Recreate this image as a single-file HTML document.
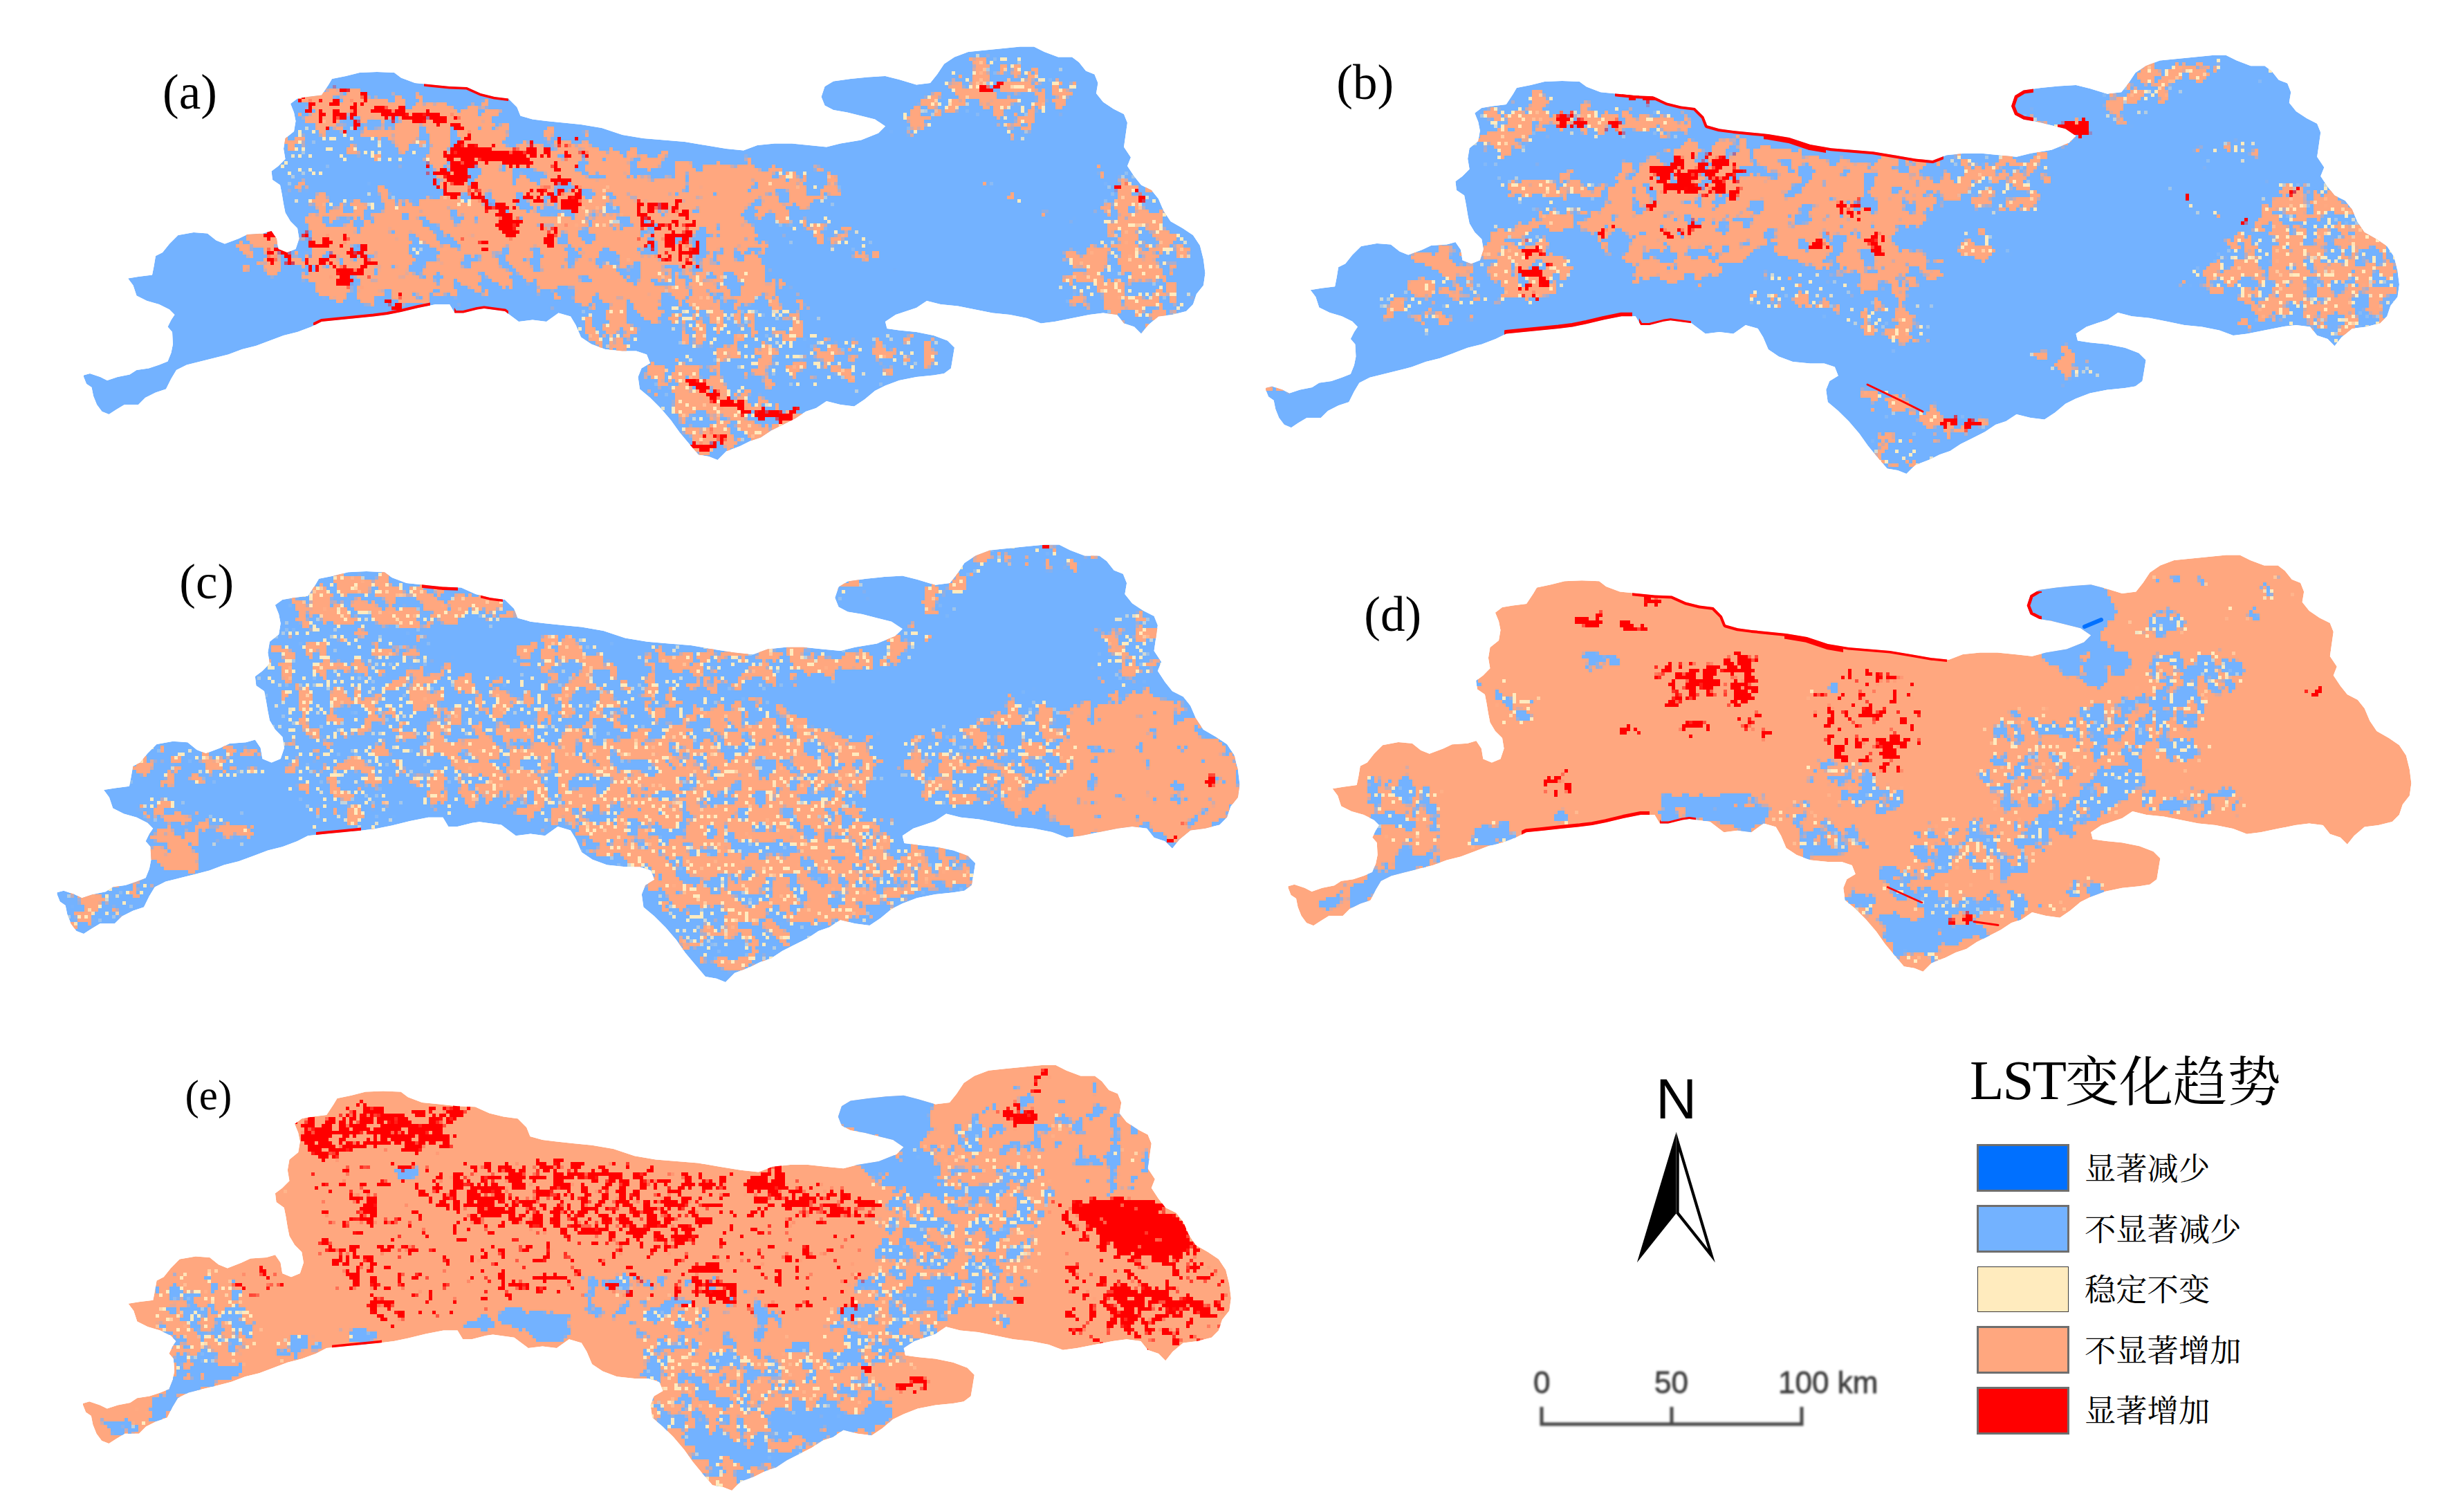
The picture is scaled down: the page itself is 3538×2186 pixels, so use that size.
<!DOCTYPE html>
<html><head><meta charset="utf-8"><title>LST</title>
<style>
html,body{margin:0;padding:0;background:#fff;}
body{width:3538px;height:2186px;overflow:hidden;position:relative;font-family:"Liberation Serif","Noto Serif CJK SC",serif;color:#000;}
svg{position:absolute;left:0;top:0;}
.lab{position:absolute;font-size:71px;line-height:1;white-space:nowrap;}
.ttl{position:absolute;font-size:81px;line-height:1;white-space:nowrap;letter-spacing:-2px;}
.ttl span{font-size:78px;letter-spacing:0;position:relative;top:3px;}
.lg{position:absolute;font-size:45.3px;line-height:1;white-space:nowrap;}
.sw{position:absolute;box-sizing:border-box;border:3px solid #6e6e6e;width:134px;height:69px;left:2858px;}
.sb{position:absolute;font-family:"Liberation Sans",sans-serif;font-size:44px;line-height:1;color:#3c3c3c;-webkit-text-stroke:0.8px #3c3c3c;filter:blur(1.5px);white-space:nowrap;}
.n{position:absolute;font-family:"Liberation Sans",sans-serif;font-size:82px;line-height:1;}
</style></head><body>
<svg width="3538" height="2186" viewBox="0 0 3538 2186">

<defs><path id="oa" d="M121.0,542.5 L130.0,540.0 L145.0,545.0 L155.0,550.0 L170.0,545.0 L187.5,541.5 L197.5,535.0 L215.0,532.5 L230.0,527.5 L242.5,522.5 L247.5,510.0 L250.0,497.5 L249.0,480.0 L242.5,472.5 L247.5,462.5 L252.5,455.0 L245.0,447.5 L230.0,440.0 L212.5,435.0 L197.5,427.5 L192.5,412.5 L185.0,402.5 L200.0,400.0 L220.0,397.5 L222.5,385.0 L225.0,370.0 L235.0,365.0 L245.0,352.5 L257.5,340.0 L280.0,336.0 L300.0,337.5 L312.5,347.5 L325.0,352.5 L345.0,345.0 L357.5,339.0 L380.0,337.5 L392.5,334.0 L400.0,345.0 L402.5,360.0 L415.0,365.0 L427.5,360.0 L432.5,345.0 L430.0,330.0 L420.0,320.0 L412.5,307.5 L410.0,295.0 L407.5,280.0 L405.0,267.5 L394.0,260.0 L392.5,247.5 L402.5,240.0 L412.5,230.0 L410.0,215.0 L412.5,200.0 L425.0,190.0 L427.5,175.0 L425.0,162.5 L420.0,150.0 L430.0,142.5 L445.0,140.0 L465.0,137.5 L475.0,122.5 L480.0,114.0 L500.0,110.0 L520.0,105.0 L545.0,104.0 L570.0,105.0 L580.0,112.5 L600.0,120.0 L625.0,122.5 L650.0,125.0 L675.0,126.0 L695.0,135.0 L715.0,140.0 L735.0,142.5 L747.5,155.0 L752.5,167.5 L770.0,172.5 L790.0,175.0 L815.0,177.5 L840.0,180.0 L870.0,185.0 L900.0,195.0 L930.0,200.0 L960.0,202.5 L990.0,205.0 L1020.0,210.0 L1050.0,215.0 L1075.0,217.5 L1095.0,210.0 L1120.0,207.5 L1145.0,207.5 L1170.0,210.0 L1195.0,212.5 L1215.0,207.5 L1245.0,202.5 L1270.0,192.5 L1280.0,182.5 L1265.0,172.5 L1245.0,167.5 L1225.0,162.5 L1205.0,159.0 L1192.5,152.5 L1187.5,140.0 L1192.5,125.0 L1205.0,117.5 L1230.0,114.0 L1255.0,111.5 L1280.0,110.0 L1300.0,115.0 L1325.0,122.5 L1345.0,120.0 L1355.0,107.5 L1365.0,92.5 L1380.0,82.5 L1400.0,75.0 L1425.0,72.5 L1450.0,70.0 L1475.0,67.5 L1495.0,67.5 L1510.0,75.0 L1530.0,82.5 L1550.0,82.5 L1560.0,90.0 L1570.0,102.5 L1582.5,107.5 L1587.5,120.0 L1585.0,135.0 L1595.0,147.5 L1610.0,157.5 L1625.0,165.0 L1630.0,177.5 L1627.5,195.0 L1625.0,212.5 L1635.0,227.5 L1630.0,240.0 L1640.0,255.0 L1650.0,267.5 L1665.0,275.0 L1675.0,287.5 L1682.5,305.0 L1692.5,320.0 L1710.0,330.0 L1725.0,340.0 L1735.0,355.0 L1740.0,375.0 L1742.5,395.0 L1740.0,412.5 L1730.0,425.0 L1725.0,440.0 L1715.0,450.0 L1695.0,455.0 L1675.0,457.5 L1660.0,470.0 L1650.0,482.5 L1640.0,472.5 L1625.0,467.5 L1615.0,455.0 L1595.0,452.5 L1575.0,455.0 L1550.0,460.0 L1525.0,465.0 L1505.0,467.5 L1485.0,460.0 L1460.0,455.0 L1435.0,452.5 L1410.0,447.5 L1385.0,442.5 L1360.0,440.0 L1340.0,435.0 L1325.0,445.0 L1310.0,450.0 L1295.0,455.0 L1280.0,465.0 L1282.5,475.0 L1300.0,477.5 L1325.0,480.0 L1350.0,485.0 L1370.0,492.5 L1380.0,502.5 L1377.5,517.5 L1375.0,532.5 L1365.0,540.0 L1350.0,542.5 L1325.0,545.0 L1300.0,550.0 L1280.0,557.5 L1265.0,565.0 L1250.0,577.5 L1235.0,587.5 L1215.0,585.0 L1195.0,580.0 L1180.0,590.0 L1165.0,595.0 L1150.0,605.0 L1130.0,615.0 L1115.0,622.5 L1100.0,632.5 L1085.0,637.5 L1070.0,645.0 L1050.0,652.5 L1037.5,665.0 L1025.0,660.0 L1010.0,657.5 L995.0,640.0 L982.5,625.0 L970.0,607.5 L955.0,590.0 L940.0,575.0 L925.0,562.5 L922.5,545.0 L927.5,532.5 L940.0,525.0 L935.0,512.5 L920.0,507.5 L900.0,507.5 L875.0,505.0 L855.0,497.5 L840.0,487.5 L832.5,470.0 L825.0,457.5 L807.5,452.5 L790.0,465.0 L770.0,462.5 L750.0,465.0 L730.0,450.0 L700.0,446.0 L690.0,447.5 L670.0,452.5 L657.5,452.5 L650.0,440.0 L630.0,440.0 L605.0,445.0 L580.0,451.0 L560.0,455.0 L540.0,457.5 L515.0,460.0 L490.0,462.5 L465.0,465.0 L450.0,472.5 L430.0,480.0 L410.0,485.0 L390.0,492.5 L370.0,500.0 L350.0,505.0 L330.0,512.5 L310.0,517.5 L290.0,522.5 L270.0,527.5 L255.0,535.0 L247.5,547.5 L240.0,562.5 L225.0,567.5 L210.0,575.0 L200.0,585.0 L180.0,585.0 L167.5,592.5 L157.5,599.0 L147.5,595.0 L140.0,585.0 L135.0,572.5 L132.5,560.0 L125.0,555.0 L121.0,545.0Z"/></defs><clipPath id="clipa"><use href="#oa"/></clipPath>
<filter id="fap" filterUnits="userSpaceOnUse" x="111" y="58" width="1642" height="618" color-interpolation-filters="sRGB">
<feGaussianBlur in="SourceGraphic" stdDeviation="9"/>
<feColorMatrix type="matrix" values="0 0 0 0 0 0 0 0 0 0 0 0 0 0 0 1 0 0 0 0" result="d"/>
<feTurbulence type="fractalNoise" baseFrequency="0.042" numOctaves="5" seed="3" result="t"/>
<feColorMatrix in="t" type="matrix" values="0 0 0 0 0 0 0 0 0 0 0 0 0 0 0 2.0 0 0 0 -0.5" result="n"/>
<feComposite in="d" in2="n" operator="arithmetic" k1="0" k2="16.100" k3="-14.000" k4="-0.3" result="m"/>
<feFlood x="113" y="60" width="1" height="1" flood-color="#000" result="px"/>
<feComposite in="px" in2="px" operator="over" x="111" y="58" width="5" height="5" result="cell"/>
<feTile in="cell" result="grid"/>
<feComposite in="m" in2="grid" operator="in" result="ms"/>
<feMorphology in="ms" operator="dilate" radius="2" result="mp"/>
<feFlood flood-color="#ffa77f" result="c"/>
<feComposite in="c" in2="mp" operator="in"/>
</filter>
<filter id="fac" filterUnits="userSpaceOnUse" x="111" y="58" width="1642" height="618" color-interpolation-filters="sRGB">
<feGaussianBlur in="SourceGraphic" stdDeviation="8"/>
<feColorMatrix type="matrix" values="0 0 0 0 0 0 0 0 0 0 0 0 0 0 0 1 0 0 0 0" result="d"/>
<feTurbulence type="fractalNoise" baseFrequency="0.17" numOctaves="2" seed="8" result="t"/>
<feColorMatrix in="t" type="matrix" values="0 0 0 0 0 0 0 0 0 0 0 0 0 0 0 2.0 0 0 0 -0.5" result="n"/>
<feComposite in="d" in2="n" operator="arithmetic" k1="0" k2="3.500" k3="-14.000" k4="-0.3" result="m"/>
<feFlood x="113" y="60" width="1" height="1" flood-color="#000" result="px"/>
<feComposite in="px" in2="px" operator="over" x="111" y="58" width="5" height="5" result="cell"/>
<feTile in="cell" result="grid"/>
<feComposite in="m" in2="grid" operator="in" result="ms"/>
<feMorphology in="ms" operator="dilate" radius="2" result="mp"/>
<feFlood flood-color="#ffebbe" result="c"/>
<feComposite in="c" in2="mp" operator="in"/>
</filter>
<filter id="far" filterUnits="userSpaceOnUse" x="111" y="58" width="1642" height="618" color-interpolation-filters="sRGB">
<feGaussianBlur in="SourceGraphic" stdDeviation="4.5"/>
<feColorMatrix type="matrix" values="0 0 0 0 0 0 0 0 0 0 0 0 0 0 0 1 0 0 0 0" result="d"/>
<feTurbulence type="fractalNoise" baseFrequency="0.075" numOctaves="5" seed="12" result="t"/>
<feColorMatrix in="t" type="matrix" values="0 0 0 0 0 0 0 0 0 0 0 0 0 0 0 2.0 0 0 0 -0.5" result="n"/>
<feComposite in="d" in2="n" operator="arithmetic" k1="0" k2="16.100" k3="-14.000" k4="-0.3" result="m"/>
<feFlood x="113" y="60" width="1" height="1" flood-color="#000" result="px"/>
<feComposite in="px" in2="px" operator="over" x="111" y="58" width="5" height="5" result="cell"/>
<feTile in="cell" result="grid"/>
<feComposite in="m" in2="grid" operator="in" result="ms"/>
<feMorphology in="ms" operator="dilate" radius="2" result="mp"/>
<feFlood flood-color="#ff0000" result="c"/>
<feComposite in="c" in2="mp" operator="in"/>
</filter>
<clipPath id="cca0"><rect x="453" y="430" width="169" height="40"/></clipPath>
<clipPath id="cca1"><rect x="657" y="440" width="78" height="22"/></clipPath>
<clipPath id="cca2"><rect x="613" y="110" width="122" height="36"/></clipPath>
<g clip-path="url(#clipa)">
<use href="#oa" fill="#73b2ff"/>
<g filter="url(#fap)"><rect x="111" y="58" width="1642" height="618" fill="#000"/>
<path d="M605.0,215.0 L730.0,205.0 L790.0,190.0 L860.0,205.0 L930.0,225.0 L1005.0,235.0 L1080.0,235.0 L1155.0,245.0 L1225.0,275.0 L1220.0,290.0 L1130.0,300.0 L1080.0,320.0 L1105.0,360.0 L1120.0,390.0 L1130.0,430.0 L1120.0,465.0 L1055.0,480.0 L1005.0,490.0 L970.0,475.0 L905.0,460.0 L860.0,440.0 L805.0,435.0 L770.0,410.0 L730.0,420.0 L680.0,420.0 L630.0,435.0 L580.0,440.0 L530.0,435.0 L480.0,440.0 L440.0,420.0 L425.0,400.0 L440.0,365.0 L435.0,335.0 L440.0,305.0 L480.0,290.0 L530.0,300.0 L580.0,300.0 L630.0,275.0 L630.0,240.0Z" fill="#b0b0b0"/>
<path d="M1580.0,240.0 L1615.0,250.0 L1650.0,270.0 L1680.0,300.0 L1695.0,330.0 L1725.0,345.0 L1730.0,365.0 L1700.0,380.0 L1680.0,390.0 L1700.0,410.0 L1720.0,430.0 L1700.0,450.0 L1650.0,470.0 L1620.0,465.0 L1600.0,440.0 L1550.0,430.0 L1525.0,410.0 L1540.0,380.0 L1550.0,350.0 L1580.0,360.0 L1600.0,340.0 L1590.0,310.0 L1600.0,280.0Z" fill="#929292"/>
<path d="M950.0,440.0 L1150.0,430.0 L1200.0,490.0 L1250.0,540.0 L1150.0,565.0 L1000.0,520.0Z" fill="#5e5e5e"/>
<path d="M425.0,142.5 L475.0,120.0 L495.0,120.0 L510.0,140.0 L530.0,135.0 L580.0,140.0 L630.0,147.5 L680.0,147.5 L725.0,160.0 L735.0,190.0 L725.0,210.0 L655.0,215.0 L605.0,210.0 L580.0,195.0 L530.0,200.0 L495.0,190.0 L475.0,205.0 L450.0,195.0 L430.0,175.0Z" fill="#bfbfbf"/>
<path d="M1330.0,140.0 L1375.0,105.0 L1425.0,80.0 L1480.0,75.0 L1500.0,100.0 L1550.0,110.0 L1580.0,125.0 L1550.0,140.0 L1500.0,170.0 L1480.0,200.0 L1450.0,190.0 L1425.0,155.0 L1375.0,170.0 L1340.0,190.0 L1275.0,190.0 L1290.0,175.0 L1325.0,160.0Z" fill="#7d7d7d"/>
<path d="M940.0,535.0 L980.0,520.0 L1030.0,540.0 L1080.0,565.0 L1130.0,590.0 L1170.0,600.0 L1130.0,635.0 L1080.0,640.0 L1030.0,660.0 L1005.0,650.0 L975.0,605.0 L950.0,580.0Z" fill="#a2a2a2"/>
<path d="M413.3,190.0 L446.7,176.7 L490.0,173.3 L540.0,196.7 L566.7,206.7 L613.3,200.0 L633.3,216.7 L613.3,236.7 L566.7,236.7 L520.0,230.0 L480.0,236.7 L463.3,256.7 L413.3,263.3 L400.0,236.7Z" fill="#434343"/>
<path d="M1200.0,490.0 L1350.0,490.0 L1365.0,530.0 L1250.0,565.0 L1200.0,540.0Z" fill="#5e5e5e"/>
<path d="M1115.0,310.0 L1200.0,310.0 L1250.0,350.0 L1300.0,385.0 L1250.0,370.0 L1175.0,350.0 L1115.0,340.0Z" fill="#6f6f6f"/>
<path d="M413.3,263.3 L463.3,276.7 L513.3,280.0 L560.0,270.0 L606.7,276.7 L610.0,296.7 L566.7,303.3 L513.3,303.3 L463.3,296.7 L413.3,290.0Z" fill="#4a4a4a"/>
<path d="M946.7,390.0 L1080.0,390.0 L1080.0,423.3 L946.7,423.3Z" fill="#767676"/>
<path d="M835.0,465.0 L865.0,445.0 L910.0,455.0 L920.0,490.0 L900.0,507.5 L860.0,502.5 L840.0,485.0Z" fill="#a2a2a2"/>
<path d="M330.0,360.0 L350.0,340.0 L390.0,335.0 L400.0,360.0 L430.0,365.0 L430.0,390.0 L380.0,385.0 L350.0,380.0Z" fill="#b4b4b4"/>
<path d="M1115.0,250.0 L1150.0,240.0 L1200.0,260.0 L1225.0,280.0 L1200.0,290.0 L1150.0,275.0 L1115.0,270.0Z" fill="#7d7d7d"/>
<path d="M846.7,276.7 L900.0,276.7 L900.0,323.3 L846.7,323.3Z" fill="#676767"/>
<path d="M845.0,470.0 L880.0,460.0 L920.0,490.0 L910.0,510.0 L870.0,500.0Z" fill="#a2a2a2"/>
<path d="M580.0,343.3 L633.3,343.3 L633.3,376.7 L580.0,376.7Z" fill="#4a4a4a"/>
<path d="M766.7,303.3 L846.7,303.3 L846.7,323.3 L766.7,323.3Z" fill="#4a4a4a"/>
<path d="M660.0,263.3 L700.0,276.7 L680.0,303.3 L646.7,290.0Z" fill="#555555"/>
<path d="M1410.0,257.5 L1440.0,267.5 L1480.0,290.0 L1545.0,312.5 L1540.0,317.5 L1475.0,297.5 L1435.0,275.0 L1410.0,262.5Z" fill="#a2a2a2"/>
<path d="M870.0,363.3 L900.0,363.3 L900.0,390.0 L870.0,390.0Z" fill="#4a4a4a"/>
</g>
<g filter="url(#fac)"><rect x="111" y="58" width="1642" height="618" fill="#000"/>
<path d="M605.0,215.0 L730.0,205.0 L790.0,190.0 L860.0,205.0 L930.0,225.0 L1005.0,235.0 L1080.0,235.0 L1155.0,245.0 L1225.0,275.0 L1220.0,290.0 L1130.0,300.0 L1080.0,320.0 L1105.0,360.0 L1120.0,390.0 L1130.0,430.0 L1120.0,465.0 L1055.0,480.0 L1005.0,490.0 L970.0,475.0 L905.0,460.0 L860.0,440.0 L805.0,435.0 L770.0,410.0 L730.0,420.0 L680.0,420.0 L630.0,435.0 L580.0,440.0 L530.0,435.0 L480.0,440.0 L440.0,420.0 L425.0,400.0 L440.0,365.0 L435.0,335.0 L440.0,305.0 L480.0,290.0 L530.0,300.0 L580.0,300.0 L630.0,275.0 L630.0,240.0Z" fill="#000"/>
<path d="M1580.0,240.0 L1615.0,250.0 L1650.0,270.0 L1680.0,300.0 L1695.0,330.0 L1725.0,345.0 L1730.0,365.0 L1700.0,380.0 L1680.0,390.0 L1700.0,410.0 L1720.0,430.0 L1700.0,450.0 L1650.0,470.0 L1620.0,465.0 L1600.0,440.0 L1550.0,430.0 L1525.0,410.0 L1540.0,380.0 L1550.0,350.0 L1580.0,360.0 L1600.0,340.0 L1590.0,310.0 L1600.0,280.0Z" fill="#fff"/>
<path d="M950.0,440.0 L1150.0,430.0 L1200.0,490.0 L1250.0,540.0 L1150.0,565.0 L1000.0,520.0Z" fill="#fff"/>
<path d="M425.0,142.5 L475.0,120.0 L495.0,120.0 L510.0,140.0 L530.0,135.0 L580.0,140.0 L630.0,147.5 L680.0,147.5 L725.0,160.0 L735.0,190.0 L725.0,210.0 L655.0,215.0 L605.0,210.0 L580.0,195.0 L530.0,200.0 L495.0,190.0 L475.0,205.0 L450.0,195.0 L430.0,175.0Z" fill="#000"/>
<path d="M1330.0,140.0 L1375.0,105.0 L1425.0,80.0 L1480.0,75.0 L1500.0,100.0 L1550.0,110.0 L1580.0,125.0 L1550.0,140.0 L1500.0,170.0 L1480.0,200.0 L1450.0,190.0 L1425.0,155.0 L1375.0,170.0 L1340.0,190.0 L1275.0,190.0 L1290.0,175.0 L1325.0,160.0Z" fill="#fff"/>
<path d="M940.0,535.0 L980.0,520.0 L1030.0,540.0 L1080.0,565.0 L1130.0,590.0 L1170.0,600.0 L1130.0,635.0 L1080.0,640.0 L1030.0,660.0 L1005.0,650.0 L975.0,605.0 L950.0,580.0Z" fill="#fff"/>
<path d="M413.3,190.0 L446.7,176.7 L490.0,173.3 L540.0,196.7 L566.7,206.7 L613.3,200.0 L633.3,216.7 L613.3,236.7 L566.7,236.7 L520.0,230.0 L480.0,236.7 L463.3,256.7 L413.3,263.3 L400.0,236.7Z" fill="#fff"/>
<path d="M1200.0,490.0 L1350.0,490.0 L1365.0,530.0 L1250.0,565.0 L1200.0,540.0Z" fill="#fff"/>
<path d="M1115.0,310.0 L1200.0,310.0 L1250.0,350.0 L1300.0,385.0 L1250.0,370.0 L1175.0,350.0 L1115.0,340.0Z" fill="#fff"/>
<path d="M413.3,263.3 L463.3,276.7 L513.3,280.0 L560.0,270.0 L606.7,276.7 L610.0,296.7 L566.7,303.3 L513.3,303.3 L463.3,296.7 L413.3,290.0Z" fill="#fff"/>
<path d="M946.7,390.0 L1080.0,390.0 L1080.0,423.3 L946.7,423.3Z" fill="#fff"/>
<path d="M835.0,465.0 L865.0,445.0 L910.0,455.0 L920.0,490.0 L900.0,507.5 L860.0,502.5 L840.0,485.0Z" fill="#fff"/>
<path d="M330.0,360.0 L350.0,340.0 L390.0,335.0 L400.0,360.0 L430.0,365.0 L430.0,390.0 L380.0,385.0 L350.0,380.0Z" fill="#000"/>
<path d="M1115.0,250.0 L1150.0,240.0 L1200.0,260.0 L1225.0,280.0 L1200.0,290.0 L1150.0,275.0 L1115.0,270.0Z" fill="#fff"/>
<path d="M846.7,276.7 L900.0,276.7 L900.0,323.3 L846.7,323.3Z" fill="#fff"/>
<path d="M845.0,470.0 L880.0,460.0 L920.0,490.0 L910.0,510.0 L870.0,500.0Z" fill="#fff"/>
<path d="M580.0,343.3 L633.3,343.3 L633.3,376.7 L580.0,376.7Z" fill="#fff"/>
<path d="M766.7,303.3 L846.7,303.3 L846.7,323.3 L766.7,323.3Z" fill="#fff"/>
<path d="M660.0,263.3 L700.0,276.7 L680.0,303.3 L646.7,290.0Z" fill="#fff"/>
<path d="M1410.0,257.5 L1440.0,267.5 L1480.0,290.0 L1545.0,312.5 L1540.0,317.5 L1475.0,297.5 L1435.0,275.0 L1410.0,262.5Z" fill="#fff"/>
<path d="M870.0,363.3 L900.0,363.3 L900.0,390.0 L870.0,390.0Z" fill="#fff"/>
</g>
<g filter="url(#far)"><rect x="111" y="58" width="1642" height="618" fill="#000"/>
<path d="M613.3,243.3 L646.7,233.3 L680.0,250.0 L700.0,276.7 L713.3,296.7 L746.7,283.3 L780.0,276.7 L806.7,250.0 L823.3,256.7 L843.3,276.7 L840.0,303.3 L813.3,303.3 L786.7,296.7 L756.7,290.0 L746.7,306.7 L756.7,323.3 L740.0,343.3 L720.0,340.0 L713.3,316.7 L693.3,303.3 L680.0,283.3 L646.7,283.3 L620.0,263.3Z" fill="#7c7c7c"/>
<path d="M913.3,290.0 L980.0,283.3 L1013.3,323.3 L1013.3,390.0 L963.3,390.0 L930.0,350.0Z" fill="#606060"/>
<path d="M433.3,343.3 L480.0,330.0 L540.0,356.7 L540.0,410.0 L496.7,420.0 L446.7,390.0Z" fill="#606060"/>
<path d="M536.7,153.3 L586.7,156.7 L613.3,163.3 L646.7,170.0 L673.3,183.3 L686.7,206.7 L713.3,216.7 L746.7,213.3 L776.7,216.7 L780.0,233.3 L746.7,243.3 L713.3,236.7 L690.0,230.0 L680.0,250.0 L670.0,263.3 L653.3,256.7 L646.7,230.0 L640.0,216.7 L663.3,206.7 L670.0,190.0 L646.7,183.3 L613.3,183.3 L586.7,173.3 L546.7,170.0 L536.7,163.3Z" fill="#c6c6c6"/>
<path d="M420.0,146.7 L480.0,130.0 L530.0,136.7 L536.7,156.7 L526.7,183.3 L496.7,190.0 L446.7,173.3Z" fill="#636363"/>
<path d="M763.3,200.0 L846.7,203.3 L846.7,243.3 L796.7,246.7 L780.0,236.7Z" fill="#585858"/>
<path d="M977.5,540.0 L1000.0,542.5 L1040.0,570.0 L1080.0,590.0 L1150.0,595.0 L1170.0,600.0 L1150.0,607.5 L1090.0,605.0 L1050.0,590.0 L1010.0,565.0Z" fill="#d3d3d3"/>
<path d="M380.0,333.3 L420.0,336.7 L420.0,383.3 L380.0,383.3Z" fill="#676767"/>
<path d="M990.0,630.0 L1050.0,625.0 L1050.0,640.0 L1020.0,655.0 L1000.0,645.0Z" fill="#898989"/>
<path d="M1595.0,255.0 L1625.0,260.0 L1675.0,290.0 L1665.0,300.0 L1615.0,275.0Z" fill="#6e6e6e"/>
<path d="M780.0,323.3 L813.3,323.3 L813.3,356.7 L780.0,356.7Z" fill="#7c7c7c"/>
<path d="M720.0,310.0 L756.7,313.3 L753.3,343.3 L723.3,340.0Z" fill="#b3b3b3"/>
<path d="M960.0,338.3 L996.7,336.7 L996.7,360.0 L961.7,360.0Z" fill="#b3b3b3"/>
<path d="M483.3,390.0 L513.3,386.7 L513.3,413.3 L486.7,413.3Z" fill="#b3b3b3"/>
<path d="M810.0,285.0 L840.0,281.7 L841.7,303.3 L813.3,305.0Z" fill="#b3b3b3"/>
<path d="M666.7,346.7 L713.3,346.7 L713.3,356.7 L666.7,356.7Z" fill="#6e6e6e"/>
<path d="M560.0,426.7 L580.0,426.7 L580.0,443.3 L560.0,443.3Z" fill="#b3b3b3"/>
<path d="M1422.5,122.5 L1437.5,122.5 L1437.5,135.0 L1422.5,135.0Z" fill="#c0c0c0"/>
<path d="M121.0,540.0 L132.5,540.0 L134.0,555.0 L125.0,555.0Z" fill="#c0c0c0"/>
<path d="M1445.0,115.0 L1455.0,115.0 L1455.0,125.0 L1445.0,125.0Z" fill="#c0c0c0"/>
</g>
<g clip-path="url(#cca0)"><use href="#oa" fill="none" stroke="#ff0000" stroke-width="8" stroke-linejoin="round"/></g>
<g clip-path="url(#cca1)"><use href="#oa" fill="none" stroke="#ff0000" stroke-width="7.0" stroke-linejoin="round"/></g>
<g clip-path="url(#cca2)"><use href="#oa" fill="none" stroke="#ff0000" stroke-width="7.0" stroke-linejoin="round"/></g>
</g>
<defs><path id="ob" d="M1830.0,561.0 L1839.1,558.5 L1854.3,563.5 L1864.4,568.6 L1879.5,563.5 L1897.2,560.0 L1907.3,553.4 L1925.0,550.9 L1940.2,545.8 L1952.8,540.7 L1957.9,528.1 L1960.4,515.4 L1959.4,497.7 L1952.8,490.1 L1957.9,480.0 L1962.9,472.4 L1955.3,464.8 L1940.2,457.2 L1922.5,452.1 L1907.3,444.5 L1902.3,429.3 L1894.7,419.2 L1909.9,416.7 L1930.1,414.2 L1932.6,401.5 L1935.1,386.3 L1945.2,381.2 L1955.3,368.6 L1968.0,355.9 L1990.7,351.9 L2010.9,353.4 L2023.6,363.5 L2036.2,368.6 L2056.4,361.0 L2069.1,354.9 L2091.8,353.4 L2104.4,349.9 L2112.0,361.0 L2114.5,376.2 L2127.2,381.2 L2139.8,376.2 L2144.9,361.0 L2142.3,345.8 L2132.2,335.7 L2124.6,323.0 L2122.1,310.4 L2119.6,295.2 L2117.1,282.5 L2105.9,274.9 L2104.4,262.3 L2114.5,254.7 L2124.6,244.5 L2122.1,229.4 L2124.6,214.2 L2137.3,204.0 L2139.8,188.9 L2137.3,176.2 L2132.2,163.5 L2142.3,155.9 L2157.5,153.4 L2177.7,150.9 L2187.8,135.7 L2192.9,127.1 L2213.1,123.0 L2233.3,118.0 L2258.6,117.0 L2283.8,118.0 L2294.0,125.6 L2314.2,133.2 L2339.4,135.7 L2364.7,138.2 L2390.0,139.2 L2410.2,148.4 L2430.4,153.4 L2450.6,155.9 L2463.3,168.6 L2468.3,181.3 L2486.0,186.3 L2506.2,188.9 L2531.5,191.4 L2556.8,193.9 L2587.1,199.0 L2617.4,209.1 L2647.7,214.2 L2678.1,216.7 L2708.4,219.2 L2738.7,224.3 L2769.0,229.4 L2794.3,231.9 L2814.5,224.3 L2839.8,221.8 L2865.1,221.8 L2890.3,224.3 L2915.6,226.8 L2935.8,221.8 L2966.1,216.7 L2991.4,206.6 L3001.5,196.4 L2986.4,186.3 L2966.1,181.3 L2945.9,176.2 L2925.7,172.7 L2913.1,166.1 L2908.0,153.4 L2913.1,138.2 L2925.7,130.6 L2951.0,127.1 L2976.2,124.6 L3001.5,123.0 L3021.7,128.1 L3047.0,135.7 L3067.2,133.2 L3077.3,120.5 L3087.4,105.3 L3102.6,95.2 L3122.8,87.6 L3148.1,85.1 L3173.4,82.5 L3198.6,80.0 L3218.8,80.0 L3234.0,87.6 L3254.2,95.2 L3274.4,95.2 L3284.5,102.8 L3294.6,115.4 L3307.3,120.5 L3312.3,133.2 L3309.8,148.4 L3319.9,161.0 L3335.1,171.1 L3350.2,178.7 L3355.3,191.4 L3352.8,209.1 L3350.2,226.8 L3360.4,242.0 L3355.3,254.7 L3365.4,269.9 L3375.5,282.5 L3390.7,290.1 L3400.8,302.8 L3408.4,320.5 L3418.5,335.7 L3436.2,345.8 L3451.3,355.9 L3461.4,371.1 L3466.5,391.4 L3469.0,411.6 L3466.5,429.3 L3456.4,442.0 L3451.3,457.2 L3441.2,467.3 L3421.0,472.4 L3400.8,474.9 L3385.6,487.6 L3375.5,500.2 L3365.4,490.1 L3350.2,485.0 L3340.1,472.4 L3319.9,469.9 L3299.7,472.4 L3274.4,477.4 L3249.2,482.5 L3228.9,485.0 L3208.7,477.4 L3183.5,472.4 L3158.2,469.9 L3132.9,464.8 L3107.7,459.7 L3082.4,457.2 L3062.2,452.1 L3047.0,462.3 L3031.8,467.3 L3016.7,472.4 L3001.5,482.5 L3004.0,492.6 L3021.7,495.2 L3047.0,497.7 L3072.3,502.8 L3092.5,510.4 L3102.6,520.5 L3100.1,535.7 L3097.5,550.9 L3087.4,558.5 L3072.3,561.0 L3047.0,563.5 L3021.7,568.6 L3001.5,576.2 L2986.4,583.8 L2971.2,596.4 L2956.0,606.6 L2935.8,604.0 L2915.6,599.0 L2900.4,609.1 L2885.3,614.1 L2870.1,624.3 L2849.9,634.4 L2834.7,642.0 L2819.6,652.1 L2804.4,657.2 L2789.2,664.8 L2769.0,672.4 L2756.4,685.0 L2743.8,680.0 L2728.6,677.4 L2713.4,659.7 L2700.8,644.5 L2688.2,626.8 L2673.0,609.1 L2657.8,593.9 L2642.7,581.2 L2640.2,563.5 L2645.2,550.9 L2657.8,543.3 L2652.8,530.6 L2637.6,525.5 L2617.4,525.5 L2592.1,523.0 L2571.9,515.4 L2556.8,505.3 L2549.2,487.6 L2541.6,474.9 L2523.9,469.9 L2506.2,482.5 L2486.0,480.0 L2465.8,482.5 L2445.6,467.3 L2415.3,463.3 L2405.1,464.8 L2384.9,469.9 L2372.3,469.9 L2364.7,457.2 L2344.5,457.2 L2319.2,462.3 L2294.0,468.3 L2273.7,472.4 L2253.5,474.9 L2228.3,477.4 L2203.0,480.0 L2177.7,482.5 L2162.6,490.1 L2142.3,497.7 L2122.1,502.8 L2101.9,510.4 L2081.7,517.9 L2061.5,523.0 L2041.3,530.6 L2021.0,535.7 L2000.8,540.7 L1980.6,545.8 L1965.4,553.4 L1957.9,566.0 L1950.3,581.2 L1935.1,586.3 L1920.0,593.9 L1909.9,604.0 L1889.6,604.0 L1877.0,611.6 L1866.9,618.2 L1856.8,614.1 L1849.2,604.0 L1844.2,591.4 L1841.6,578.7 L1834.0,573.6 L1830.0,563.5Z"/></defs><clipPath id="clipb"><use href="#ob"/></clipPath>
<filter id="fbp" filterUnits="userSpaceOnUse" x="1820" y="70" width="1659" height="625" color-interpolation-filters="sRGB">
<feGaussianBlur in="SourceGraphic" stdDeviation="9"/>
<feColorMatrix type="matrix" values="0 0 0 0 0 0 0 0 0 0 0 0 0 0 0 1 0 0 0 0" result="d"/>
<feTurbulence type="fractalNoise" baseFrequency="0.042" numOctaves="5" seed="11" result="t"/>
<feColorMatrix in="t" type="matrix" values="0 0 0 0 0 0 0 0 0 0 0 0 0 0 0 2.0 0 0 0 -0.5" result="n"/>
<feComposite in="d" in2="n" operator="arithmetic" k1="0" k2="16.100" k3="-14.000" k4="-0.3" result="m"/>
<feFlood x="1822" y="72" width="1" height="1" flood-color="#000" result="px"/>
<feComposite in="px" in2="px" operator="over" x="1820" y="70" width="5" height="5" result="cell"/>
<feTile in="cell" result="grid"/>
<feComposite in="m" in2="grid" operator="in" result="ms"/>
<feMorphology in="ms" operator="dilate" radius="2" result="mp"/>
<feFlood flood-color="#ffa77f" result="c"/>
<feComposite in="c" in2="mp" operator="in"/>
</filter>
<filter id="fbc" filterUnits="userSpaceOnUse" x="1820" y="70" width="1659" height="625" color-interpolation-filters="sRGB">
<feGaussianBlur in="SourceGraphic" stdDeviation="8"/>
<feColorMatrix type="matrix" values="0 0 0 0 0 0 0 0 0 0 0 0 0 0 0 1 0 0 0 0" result="d"/>
<feTurbulence type="fractalNoise" baseFrequency="0.17" numOctaves="2" seed="16" result="t"/>
<feColorMatrix in="t" type="matrix" values="0 0 0 0 0 0 0 0 0 0 0 0 0 0 0 2.0 0 0 0 -0.5" result="n"/>
<feComposite in="d" in2="n" operator="arithmetic" k1="0" k2="3.500" k3="-14.000" k4="-0.3" result="m"/>
<feFlood x="1822" y="72" width="1" height="1" flood-color="#000" result="px"/>
<feComposite in="px" in2="px" operator="over" x="1820" y="70" width="5" height="5" result="cell"/>
<feTile in="cell" result="grid"/>
<feComposite in="m" in2="grid" operator="in" result="ms"/>
<feMorphology in="ms" operator="dilate" radius="2" result="mp"/>
<feFlood flood-color="#ffebbe" result="c"/>
<feComposite in="c" in2="mp" operator="in"/>
</filter>
<filter id="fbr" filterUnits="userSpaceOnUse" x="1820" y="70" width="1659" height="625" color-interpolation-filters="sRGB">
<feGaussianBlur in="SourceGraphic" stdDeviation="4.5"/>
<feColorMatrix type="matrix" values="0 0 0 0 0 0 0 0 0 0 0 0 0 0 0 1 0 0 0 0" result="d"/>
<feTurbulence type="fractalNoise" baseFrequency="0.075" numOctaves="5" seed="20" result="t"/>
<feColorMatrix in="t" type="matrix" values="0 0 0 0 0 0 0 0 0 0 0 0 0 0 0 2.0 0 0 0 -0.5" result="n"/>
<feComposite in="d" in2="n" operator="arithmetic" k1="0" k2="16.100" k3="-14.000" k4="-0.3" result="m"/>
<feFlood x="1822" y="72" width="1" height="1" flood-color="#000" result="px"/>
<feComposite in="px" in2="px" operator="over" x="1820" y="70" width="5" height="5" result="cell"/>
<feTile in="cell" result="grid"/>
<feComposite in="m" in2="grid" operator="in" result="ms"/>
<feMorphology in="ms" operator="dilate" radius="2" result="mp"/>
<feFlood flood-color="#ff0000" result="c"/>
<feComposite in="c" in2="mp" operator="in"/>
</filter>
<clipPath id="ccb0"><rect x="2335" y="120" width="215" height="80"/></clipPath>
<clipPath id="ccb1"><rect x="2550" y="170" width="90" height="60"/></clipPath>
<clipPath id="ccb2"><rect x="2640" y="200" width="170" height="40"/></clipPath>
<clipPath id="ccb3"><rect x="2175" y="430" width="185" height="60"/></clipPath>
<clipPath id="ccb4"><rect x="2370" y="440" width="75" height="40"/></clipPath>
<clipPath id="ccb5"><rect x="2900" y="120" width="40" height="60"/></clipPath>
<g clip-path="url(#clipb)">
<use href="#ob" fill="#73b2ff"/>
<g filter="url(#fbp)"><rect x="1820" y="70" width="1659" height="625" fill="#000"/>
<path d="M2345.0,225.0 L2400.0,215.0 L2450.0,205.0 L2500.0,210.0 L2550.0,200.0 L2580.0,215.0 L2620.0,225.0 L2680.0,225.0 L2740.0,230.0 L2800.0,235.0 L2850.0,250.0 L2925.0,250.0 L2960.0,240.0 L2965.0,260.0 L2900.0,280.0 L2850.0,290.0 L2800.0,300.0 L2760.0,320.0 L2750.0,350.0 L2775.0,375.0 L2800.0,370.0 L2825.0,390.0 L2775.0,410.0 L2750.0,430.0 L2700.0,430.0 L2680.0,400.0 L2620.0,390.0 L2570.0,370.0 L2530.0,360.0 L2500.0,390.0 L2450.0,410.0 L2400.0,415.0 L2350.0,390.0 L2350.0,360.0 L2310.0,350.0 L2275.0,330.0 L2300.0,300.0 L2325.0,270.0 L2345.0,250.0Z" fill="#aaaaaa"/>
<path d="M3294.0,265.0 L3344.0,265.0 L3394.0,285.0 L3424.0,320.0 L3459.0,350.0 L3469.0,400.0 L3464.0,440.0 L3439.0,475.0 L3379.0,495.0 L3344.0,480.0 L3294.0,470.0 L3239.0,465.0 L3229.0,430.0 L3164.0,420.0 L3164.0,395.0 L3214.0,375.0 L3229.0,350.0 L3264.0,330.0 L3274.0,290.0Z" fill="#8b8b8b"/>
<path d="M2150.0,160.0 L2195.0,140.0 L2235.0,135.0 L2265.0,150.0 L2300.0,160.0 L2350.0,157.5 L2400.0,160.0 L2440.0,180.0 L2420.0,200.0 L2350.0,190.0 L2300.0,195.0 L2250.0,185.0 L2215.0,200.0 L2195.0,230.0 L2160.0,220.0 L2145.0,190.0Z" fill="#a2a2a2"/>
<path d="M2150.0,330.0 L2180.0,320.0 L2225.0,330.0 L2250.0,360.0 L2275.0,380.0 L2270.0,410.0 L2240.0,430.0 L2210.0,450.0 L2180.0,440.0 L2150.0,410.0 L2145.0,370.0Z" fill="#a2a2a2"/>
<path d="M2020.0,400.0 L2100.0,400.0 L2150.0,410.0 L2150.0,440.0 L2100.0,460.0 L2050.0,480.0 L2010.0,470.0 L2000.0,430.0Z" fill="#6f6f6f"/>
<path d="M3039.0,135.0 L3089.0,105.0 L3134.0,85.0 L3214.0,80.0 L3219.0,100.0 L3164.0,115.0 L3134.0,140.0 L3094.0,160.0 L3064.0,175.0 L3044.0,160.0Z" fill="#929292"/>
<path d="M2794.0,235.0 L2864.0,225.0 L2954.0,220.0 L2964.0,250.0 L2939.0,270.0 L2864.0,280.0 L2814.0,270.0Z" fill="#848484"/>
<path d="M2675.0,425.0 L2670.6,436.9 L2657.4,444.1 L2635.8,448.5 L2600.0,450.0 L2564.2,448.5 L2542.6,444.1 L2529.4,436.9 L2525.0,425.0 L2529.4,413.1 L2542.6,405.9 L2564.2,401.5 L2600.0,400.0 L2635.8,401.5 L2657.4,405.9 L2670.6,413.1Z" fill="#555555"/>
<path d="M2670.0,450.0 L2750.0,440.0 L2800.0,450.0 L2775.0,485.0 L2725.0,495.0 L2680.0,480.0Z" fill="#676767"/>
<path d="M2675.0,565.0 L2700.0,555.0 L2750.0,575.0 L2800.0,600.0 L2875.0,615.0 L2850.0,630.0 L2790.0,625.0 L2750.0,600.0 L2700.0,585.0Z" fill="#a2a2a2"/>
<path d="M2160.0,260.0 L2225.0,250.0 L2300.0,260.0 L2320.0,275.0 L2275.0,290.0 L2225.0,285.0 L2180.0,285.0Z" fill="#929292"/>
<path d="M2794.0,657.5 L2791.3,668.2 L2783.4,674.8 L2770.5,678.6 L2749.0,680.0 L2727.5,678.6 L2714.6,674.8 L2706.7,668.2 L2704.0,657.5 L2706.7,646.8 L2714.6,640.2 L2727.5,636.4 L2749.0,635.0 L2770.5,636.4 L2783.4,640.2 L2791.3,646.8Z" fill="#6f6f6f"/>
<path d="M2950.0,290.0 L2947.1,299.6 L2938.3,305.3 L2923.9,308.8 L2900.0,310.0 L2876.1,308.8 L2861.7,305.3 L2852.9,299.6 L2850.0,290.0 L2852.9,280.4 L2861.7,274.7 L2876.1,271.2 L2900.0,270.0 L2923.9,271.2 L2938.3,274.7 L2947.1,280.4Z" fill="#767676"/>
<path d="M2789.0,475.0 L2786.8,486.9 L2780.2,494.1 L2769.4,498.5 L2751.5,500.0 L2733.6,498.5 L2722.8,494.1 L2716.2,486.9 L2714.0,475.0 L2716.2,463.1 L2722.8,455.9 L2733.6,451.5 L2751.5,450.0 L2769.4,451.5 L2780.2,455.9 L2786.8,463.1Z" fill="#7d7d7d"/>
<path d="M2060.0,360.0 L2100.0,350.0 L2120.0,370.0 L2125.0,395.0 L2080.0,400.0 L2040.0,395.0Z" fill="#b4b4b4"/>
<path d="M2210.0,300.0 L2250.0,285.0 L2300.0,300.0 L2280.0,330.0 L2230.0,330.0Z" fill="#848484"/>
<path d="M2939.0,500.0 L2989.0,510.0 L3034.0,530.0 L3024.0,550.0 L2964.0,540.0 L2939.0,520.0Z" fill="#929292"/>
<path d="M2935.0,500.0 L2975.0,510.0 L3023.5,525.0 L3023.5,550.0 L2975.0,540.0 L2940.0,525.0Z" fill="#848484"/>
<path d="M3264.0,217.5 L3261.1,223.4 L3252.3,227.1 L3237.9,229.2 L3214.0,230.0 L3190.1,229.2 L3175.7,227.1 L3166.9,223.4 L3164.0,217.5 L3166.9,211.6 L3175.7,207.9 L3190.1,205.8 L3214.0,205.0 L3237.9,205.8 L3252.3,207.9 L3261.1,211.6Z" fill="#6f6f6f"/>
<path d="M2750.0,657.5 L2748.5,668.2 L2744.2,674.8 L2736.9,678.6 L2725.0,680.0 L2713.1,678.6 L2705.8,674.8 L2701.5,668.2 L2700.0,657.5 L2701.5,646.8 L2705.8,640.2 L2713.1,636.4 L2725.0,635.0 L2736.9,636.4 L2744.2,640.2 L2748.5,646.8Z" fill="#767676"/>
<path d="M2200.0,215.0 L2197.9,222.2 L2191.8,226.5 L2181.7,229.1 L2165.0,230.0 L2148.3,229.1 L2138.2,226.5 L2132.1,222.2 L2130.0,215.0 L2132.1,207.8 L2138.2,203.5 L2148.3,200.9 L2165.0,200.0 L2181.7,200.9 L2191.8,203.5 L2197.9,207.8Z" fill="#767676"/>
<path d="M2929.0,167.5 L2969.0,185.0 L3014.0,170.0 L3026.5,175.0 L3014.0,200.0 L2979.0,202.5 L2929.0,175.0Z" fill="#929292"/>
<path d="M2825.0,350.0 L2860.0,340.0 L2900.0,350.0 L2890.0,370.0 L2840.0,370.0Z" fill="#848484"/>
<path d="M2879.0,355.0 L2877.4,362.1 L2872.6,366.5 L2864.7,369.1 L2851.5,370.0 L2838.3,369.1 L2830.4,366.5 L2825.6,362.1 L2824.0,355.0 L2825.6,347.9 L2830.4,343.5 L2838.3,340.9 L2851.5,340.0 L2864.7,340.9 L2872.6,343.5 L2877.4,347.9Z" fill="#a2a2a2"/>
<path d="M3139.0,272.5 L3189.0,297.5 L3254.0,325.0 L3249.0,332.5 L3184.0,305.0 L3134.0,280.0Z" fill="#929292"/>
<path d="M1855.0,564.5 L1854.2,569.5 L1852.0,572.5 L1848.5,574.4 L1842.5,575.0 L1836.5,574.4 L1833.0,572.5 L1830.8,569.5 L1830.0,564.5 L1830.8,559.5 L1833.0,556.5 L1836.5,554.6 L1842.5,554.0 L1848.5,554.6 L1852.0,556.5 L1854.2,559.5Z" fill="#b4b4b4"/>
<path d="M3289.0,105.0 L3288.2,109.8 L3286.1,112.7 L3282.4,114.4 L3276.5,115.0 L3270.6,114.4 L3266.9,112.7 L3264.8,109.8 L3264.0,105.0 L3264.8,100.2 L3266.9,97.3 L3270.6,95.6 L3276.5,95.0 L3282.4,95.6 L3286.1,97.3 L3288.2,100.2Z" fill="#848484"/>
</g>
<g filter="url(#fbc)"><rect x="1820" y="70" width="1659" height="625" fill="#000"/>
<path d="M2345.0,225.0 L2400.0,215.0 L2450.0,205.0 L2500.0,210.0 L2550.0,200.0 L2580.0,215.0 L2620.0,225.0 L2680.0,225.0 L2740.0,230.0 L2800.0,235.0 L2850.0,250.0 L2925.0,250.0 L2960.0,240.0 L2965.0,260.0 L2900.0,280.0 L2850.0,290.0 L2800.0,300.0 L2760.0,320.0 L2750.0,350.0 L2775.0,375.0 L2800.0,370.0 L2825.0,390.0 L2775.0,410.0 L2750.0,430.0 L2700.0,430.0 L2680.0,400.0 L2620.0,390.0 L2570.0,370.0 L2530.0,360.0 L2500.0,390.0 L2450.0,410.0 L2400.0,415.0 L2350.0,390.0 L2350.0,360.0 L2310.0,350.0 L2275.0,330.0 L2300.0,300.0 L2325.0,270.0 L2345.0,250.0Z" fill="#000"/>
<path d="M3294.0,265.0 L3344.0,265.0 L3394.0,285.0 L3424.0,320.0 L3459.0,350.0 L3469.0,400.0 L3464.0,440.0 L3439.0,475.0 L3379.0,495.0 L3344.0,480.0 L3294.0,470.0 L3239.0,465.0 L3229.0,430.0 L3164.0,420.0 L3164.0,395.0 L3214.0,375.0 L3229.0,350.0 L3264.0,330.0 L3274.0,290.0Z" fill="#fff"/>
<path d="M2150.0,160.0 L2195.0,140.0 L2235.0,135.0 L2265.0,150.0 L2300.0,160.0 L2350.0,157.5 L2400.0,160.0 L2440.0,180.0 L2420.0,200.0 L2350.0,190.0 L2300.0,195.0 L2250.0,185.0 L2215.0,200.0 L2195.0,230.0 L2160.0,220.0 L2145.0,190.0Z" fill="#fff"/>
<path d="M2150.0,330.0 L2180.0,320.0 L2225.0,330.0 L2250.0,360.0 L2275.0,380.0 L2270.0,410.0 L2240.0,430.0 L2210.0,450.0 L2180.0,440.0 L2150.0,410.0 L2145.0,370.0Z" fill="#fff"/>
<path d="M2020.0,400.0 L2100.0,400.0 L2150.0,410.0 L2150.0,440.0 L2100.0,460.0 L2050.0,480.0 L2010.0,470.0 L2000.0,430.0Z" fill="#fff"/>
<path d="M3039.0,135.0 L3089.0,105.0 L3134.0,85.0 L3214.0,80.0 L3219.0,100.0 L3164.0,115.0 L3134.0,140.0 L3094.0,160.0 L3064.0,175.0 L3044.0,160.0Z" fill="#fff"/>
<path d="M2794.0,235.0 L2864.0,225.0 L2954.0,220.0 L2964.0,250.0 L2939.0,270.0 L2864.0,280.0 L2814.0,270.0Z" fill="#fff"/>
<path d="M2675.0,425.0 L2670.6,436.9 L2657.4,444.1 L2635.8,448.5 L2600.0,450.0 L2564.2,448.5 L2542.6,444.1 L2529.4,436.9 L2525.0,425.0 L2529.4,413.1 L2542.6,405.9 L2564.2,401.5 L2600.0,400.0 L2635.8,401.5 L2657.4,405.9 L2670.6,413.1Z" fill="#fff"/>
<path d="M2670.0,450.0 L2750.0,440.0 L2800.0,450.0 L2775.0,485.0 L2725.0,495.0 L2680.0,480.0Z" fill="#fff"/>
<path d="M2675.0,565.0 L2700.0,555.0 L2750.0,575.0 L2800.0,600.0 L2875.0,615.0 L2850.0,630.0 L2790.0,625.0 L2750.0,600.0 L2700.0,585.0Z" fill="#fff"/>
<path d="M2160.0,260.0 L2225.0,250.0 L2300.0,260.0 L2320.0,275.0 L2275.0,290.0 L2225.0,285.0 L2180.0,285.0Z" fill="#fff"/>
<path d="M2794.0,657.5 L2791.3,668.2 L2783.4,674.8 L2770.5,678.6 L2749.0,680.0 L2727.5,678.6 L2714.6,674.8 L2706.7,668.2 L2704.0,657.5 L2706.7,646.8 L2714.6,640.2 L2727.5,636.4 L2749.0,635.0 L2770.5,636.4 L2783.4,640.2 L2791.3,646.8Z" fill="#fff"/>
<path d="M2950.0,290.0 L2947.1,299.6 L2938.3,305.3 L2923.9,308.8 L2900.0,310.0 L2876.1,308.8 L2861.7,305.3 L2852.9,299.6 L2850.0,290.0 L2852.9,280.4 L2861.7,274.7 L2876.1,271.2 L2900.0,270.0 L2923.9,271.2 L2938.3,274.7 L2947.1,280.4Z" fill="#fff"/>
<path d="M2789.0,475.0 L2786.8,486.9 L2780.2,494.1 L2769.4,498.5 L2751.5,500.0 L2733.6,498.5 L2722.8,494.1 L2716.2,486.9 L2714.0,475.0 L2716.2,463.1 L2722.8,455.9 L2733.6,451.5 L2751.5,450.0 L2769.4,451.5 L2780.2,455.9 L2786.8,463.1Z" fill="#fff"/>
<path d="M2060.0,360.0 L2100.0,350.0 L2120.0,370.0 L2125.0,395.0 L2080.0,400.0 L2040.0,395.0Z" fill="#000"/>
<path d="M2210.0,300.0 L2250.0,285.0 L2300.0,300.0 L2280.0,330.0 L2230.0,330.0Z" fill="#fff"/>
<path d="M2939.0,500.0 L2989.0,510.0 L3034.0,530.0 L3024.0,550.0 L2964.0,540.0 L2939.0,520.0Z" fill="#fff"/>
<path d="M2935.0,500.0 L2975.0,510.0 L3023.5,525.0 L3023.5,550.0 L2975.0,540.0 L2940.0,525.0Z" fill="#fff"/>
<path d="M3264.0,217.5 L3261.1,223.4 L3252.3,227.1 L3237.9,229.2 L3214.0,230.0 L3190.1,229.2 L3175.7,227.1 L3166.9,223.4 L3164.0,217.5 L3166.9,211.6 L3175.7,207.9 L3190.1,205.8 L3214.0,205.0 L3237.9,205.8 L3252.3,207.9 L3261.1,211.6Z" fill="#fff"/>
<path d="M2750.0,657.5 L2748.5,668.2 L2744.2,674.8 L2736.9,678.6 L2725.0,680.0 L2713.1,678.6 L2705.8,674.8 L2701.5,668.2 L2700.0,657.5 L2701.5,646.8 L2705.8,640.2 L2713.1,636.4 L2725.0,635.0 L2736.9,636.4 L2744.2,640.2 L2748.5,646.8Z" fill="#fff"/>
<path d="M2200.0,215.0 L2197.9,222.2 L2191.8,226.5 L2181.7,229.1 L2165.0,230.0 L2148.3,229.1 L2138.2,226.5 L2132.1,222.2 L2130.0,215.0 L2132.1,207.8 L2138.2,203.5 L2148.3,200.9 L2165.0,200.0 L2181.7,200.9 L2191.8,203.5 L2197.9,207.8Z" fill="#fff"/>
<path d="M2929.0,167.5 L2969.0,185.0 L3014.0,170.0 L3026.5,175.0 L3014.0,200.0 L2979.0,202.5 L2929.0,175.0Z" fill="#fff"/>
<path d="M2825.0,350.0 L2860.0,340.0 L2900.0,350.0 L2890.0,370.0 L2840.0,370.0Z" fill="#fff"/>
<path d="M2879.0,355.0 L2877.4,362.1 L2872.6,366.5 L2864.7,369.1 L2851.5,370.0 L2838.3,369.1 L2830.4,366.5 L2825.6,362.1 L2824.0,355.0 L2825.6,347.9 L2830.4,343.5 L2838.3,340.9 L2851.5,340.0 L2864.7,340.9 L2872.6,343.5 L2877.4,347.9Z" fill="#fff"/>
<path d="M3139.0,272.5 L3189.0,297.5 L3254.0,325.0 L3249.0,332.5 L3184.0,305.0 L3134.0,280.0Z" fill="#fff"/>
<path d="M1855.0,564.5 L1854.2,569.5 L1852.0,572.5 L1848.5,574.4 L1842.5,575.0 L1836.5,574.4 L1833.0,572.5 L1830.8,569.5 L1830.0,564.5 L1830.8,559.5 L1833.0,556.5 L1836.5,554.6 L1842.5,554.0 L1848.5,554.6 L1852.0,556.5 L1854.2,559.5Z" fill="#000"/>
<path d="M3289.0,105.0 L3288.2,109.8 L3286.1,112.7 L3282.4,114.4 L3276.5,115.0 L3270.6,114.4 L3266.9,112.7 L3264.8,109.8 L3264.0,105.0 L3264.8,100.2 L3266.9,97.3 L3270.6,95.6 L3276.5,95.0 L3282.4,95.6 L3286.1,97.3 L3288.2,100.2Z" fill="#fff"/>
</g>
<g filter="url(#fbr)"><rect x="1820" y="70" width="1659" height="625" fill="#000"/>
<path d="M2370.0,240.0 L2425.0,225.0 L2500.0,220.0 L2520.0,250.0 L2515.0,280.0 L2490.0,295.0 L2450.0,285.0 L2400.0,275.0 L2375.0,265.0Z" fill="#757575"/>
<path d="M2240.0,395.0 L2238.7,416.5 L2234.8,429.4 L2228.2,437.4 L2217.5,440.0 L2206.8,437.4 L2200.2,429.4 L2196.3,416.5 L2195.0,395.0 L2196.3,373.5 L2200.2,360.6 L2206.8,352.6 L2217.5,350.0 L2228.2,352.6 L2234.8,360.6 L2238.7,373.5Z" fill="#606060"/>
<path d="M2715.0,305.0 L2713.1,312.1 L2707.4,316.5 L2698.0,319.1 L2682.5,320.0 L2667.0,319.1 L2657.6,316.5 L2651.9,312.1 L2650.0,305.0 L2651.9,297.9 L2657.6,293.5 L2667.0,290.9 L2682.5,290.0 L2698.0,290.9 L2707.4,293.5 L2713.1,297.9Z" fill="#6e6e6e"/>
<path d="M2465.0,332.5 L2462.9,338.4 L2456.8,342.1 L2446.7,344.2 L2430.0,345.0 L2413.3,344.2 L2403.2,342.1 L2397.1,338.4 L2395.0,332.5 L2397.1,326.6 L2403.2,322.9 L2413.3,320.8 L2430.0,320.0 L2446.7,320.8 L2456.8,322.9 L2462.9,326.6Z" fill="#676767"/>
<path d="M2969.0,181.0 L3014.0,169.0 L3025.0,173.0 L3014.0,195.0 L2984.0,200.0 L2969.0,188.5Z" fill="#c0c0c0"/>
<path d="M2450.0,257.5 L2448.5,263.4 L2444.2,267.1 L2436.9,269.2 L2425.0,270.0 L2413.1,269.2 L2405.8,267.1 L2401.5,263.4 L2400.0,257.5 L2401.5,251.6 L2405.8,247.9 L2413.1,245.8 L2425.0,245.0 L2436.9,245.8 L2444.2,247.9 L2448.5,251.6Z" fill="#a8a8a8"/>
<path d="M2870.0,611.2 L2867.9,615.5 L2861.8,618.0 L2851.7,619.5 L2835.0,620.0 L2818.3,619.5 L2808.2,618.0 L2802.1,615.5 L2800.0,611.2 L2802.1,607.0 L2808.2,604.5 L2818.3,603.0 L2835.0,602.5 L2851.7,603.0 L2861.8,604.5 L2867.9,607.0Z" fill="#9f9f9f"/>
<path d="M2725.0,357.5 L2723.9,365.9 L2720.9,370.9 L2715.8,373.9 L2707.5,375.0 L2699.2,373.9 L2694.1,370.9 L2691.1,365.9 L2690.0,357.5 L2691.1,349.1 L2694.1,344.1 L2699.2,341.1 L2707.5,340.0 L2715.8,341.1 L2720.9,344.1 L2723.9,349.1Z" fill="#828282"/>
<path d="M2295.0,175.0 L2293.5,179.8 L2289.2,182.7 L2281.9,184.4 L2270.0,185.0 L2258.1,184.4 L2250.8,182.7 L2246.5,179.8 L2245.0,175.0 L2246.5,170.2 L2250.8,167.3 L2258.1,165.6 L2270.0,165.0 L2281.9,165.6 L2289.2,167.3 L2293.5,170.2Z" fill="#979797"/>
<path d="M2645.0,360.0 L2644.2,369.6 L2642.1,375.3 L2638.4,378.8 L2632.5,380.0 L2626.6,378.8 L2622.9,375.3 L2620.8,369.6 L2620.0,360.0 L2620.8,350.4 L2622.9,344.7 L2626.6,341.2 L2632.5,340.0 L2638.4,341.2 L2642.1,344.7 L2644.2,350.4Z" fill="#7c7c7c"/>
<path d="M2515.0,277.5 L2513.8,283.4 L2510.3,287.1 L2504.6,289.2 L2495.0,290.0 L2485.4,289.2 L2479.7,287.1 L2476.2,283.4 L2475.0,277.5 L2476.2,271.6 L2479.7,267.9 L2485.4,265.8 L2495.0,265.0 L2504.6,265.8 L2510.3,267.9 L2513.8,271.6Z" fill="#9f9f9f"/>
<path d="M2500.0,237.5 L2498.9,243.4 L2495.9,247.1 L2490.8,249.2 L2482.5,250.0 L2474.2,249.2 L2469.1,247.1 L2466.1,243.4 L2465.0,237.5 L2466.1,231.6 L2469.1,227.9 L2474.2,225.8 L2482.5,225.0 L2490.8,225.8 L2495.9,227.9 L2498.9,231.6Z" fill="#9f9f9f"/>
<path d="M2230.0,402.5 L2229.4,410.9 L2227.7,415.9 L2224.8,418.9 L2220.0,420.0 L2215.2,418.9 L2212.3,415.9 L2210.6,410.9 L2210.0,402.5 L2210.6,394.1 L2212.3,389.1 L2215.2,386.1 L2220.0,385.0 L2224.8,386.1 L2227.7,389.1 L2229.4,394.1Z" fill="#909090"/>
<path d="M2335.0,135.0 L2395.0,137.5 L2400.0,145.0 L2350.0,146.0Z" fill="#c0c0c0"/>
<path d="M2350.0,182.5 L2348.9,186.1 L2345.9,188.2 L2340.8,189.6 L2332.5,190.0 L2324.2,189.6 L2319.1,188.2 L2316.1,186.1 L2315.0,182.5 L2316.1,178.9 L2319.1,176.8 L2324.2,175.4 L2332.5,175.0 L2340.8,175.4 L2345.9,176.8 L2348.9,178.9Z" fill="#979797"/>
<path d="M3334.0,282.5 L3333.4,288.4 L3331.7,292.1 L3328.8,294.2 L3324.0,295.0 L3319.2,294.2 L3316.3,292.1 L3314.6,288.4 L3314.0,282.5 L3314.6,276.6 L3316.3,272.9 L3319.2,270.8 L3324.0,270.0 L3328.8,270.8 L3331.7,272.9 L3333.4,276.6Z" fill="#606060"/>
<path d="M2335.0,333.8 L2334.1,336.8 L2331.5,338.6 L2327.2,339.6 L2320.0,340.0 L2312.8,339.6 L2308.5,338.6 L2305.9,336.8 L2305.0,333.8 L2305.9,330.8 L2308.5,328.9 L2312.8,327.9 L2320.0,327.5 L2327.2,327.9 L2331.5,328.9 L2334.1,330.8Z" fill="#898989"/>
<path d="M2400.0,297.5 L2399.2,301.1 L2397.1,303.2 L2393.4,304.6 L2387.5,305.0 L2381.6,304.6 L2377.9,303.2 L2375.8,301.1 L2375.0,297.5 L2375.8,293.9 L2377.9,291.8 L2381.6,290.4 L2387.5,290.0 L2393.4,290.4 L2397.1,291.8 L2399.2,293.9Z" fill="#979797"/>
<path d="M3175.0,286.5 L3174.6,289.6 L3173.2,291.5 L3170.8,292.6 L3167.0,293.0 L3163.2,292.6 L3160.8,291.5 L3159.4,289.6 L3159.0,286.5 L3159.4,283.4 L3160.8,281.5 L3163.2,280.4 L3167.0,280.0 L3170.8,280.4 L3173.2,281.5 L3174.6,283.4Z" fill="#a8a8a8"/>
<path d="M3249.0,322.5 L3248.6,324.9 L3247.2,326.4 L3245.1,327.2 L3241.5,327.5 L3237.9,327.2 L3235.8,326.4 L3234.4,324.9 L3234.0,322.5 L3234.4,320.1 L3235.8,318.6 L3237.9,317.8 L3241.5,317.5 L3245.1,317.8 L3247.2,318.6 L3248.6,320.1Z" fill="#a8a8a8"/>
</g>
<path d="M2700.0,556.0 L2750.0,580.0 L2780.0,595.0" fill="none" stroke="#ff0000" stroke-width="3" stroke-linejoin="round" stroke-linecap="round"/>
<g clip-path="url(#ccb0)"><use href="#ob" fill="none" stroke="#ff0000" stroke-width="8" stroke-linejoin="round"/></g>
<g clip-path="url(#ccb1)"><use href="#ob" fill="none" stroke="#ff0000" stroke-width="16" stroke-linejoin="round"/></g>
<g clip-path="url(#ccb2)"><use href="#ob" fill="none" stroke="#ff0000" stroke-width="8" stroke-linejoin="round"/></g>
<g clip-path="url(#ccb3)"><use href="#ob" fill="none" stroke="#ff0000" stroke-width="11.0" stroke-linejoin="round"/></g>
<g clip-path="url(#ccb4)"><use href="#ob" fill="none" stroke="#ff0000" stroke-width="6" stroke-linejoin="round"/></g>
<g clip-path="url(#ccb5)"><use href="#ob" fill="none" stroke="#ff0000" stroke-width="10" stroke-linejoin="round"/></g>
</g>
<defs><path id="oc" d="M82.5,1290.3 L92.0,1287.7 L107.8,1293.0 L118.4,1298.3 L134.2,1293.0 L152.6,1289.3 L163.2,1282.4 L181.6,1279.7 L197.5,1274.5 L210.6,1269.2 L215.9,1255.9 L218.5,1242.7 L217.5,1224.2 L210.6,1216.2 L215.9,1205.6 L221.2,1197.7 L213.3,1189.8 L197.5,1181.8 L179.0,1176.5 L163.2,1168.6 L157.9,1152.7 L150.0,1142.1 L165.8,1139.5 L186.9,1136.8 L189.5,1123.6 L192.2,1107.7 L202.7,1102.4 L213.3,1089.2 L226.5,1076.0 L250.2,1071.7 L271.3,1073.3 L284.5,1083.9 L297.6,1089.2 L318.7,1081.3 L331.9,1074.9 L355.6,1073.3 L368.8,1069.6 L376.7,1081.3 L379.4,1097.1 L392.6,1102.4 L405.7,1097.1 L411.0,1081.3 L408.4,1065.4 L397.8,1054.8 L389.9,1041.6 L387.3,1028.3 L384.6,1012.5 L382.0,999.2 L370.4,991.3 L368.8,978.0 L379.4,970.1 L389.9,959.5 L387.3,943.6 L389.9,927.8 L403.1,917.2 L405.7,901.3 L403.1,888.1 L397.8,874.8 L408.4,866.9 L424.2,864.2 L445.3,861.6 L455.8,845.7 L461.1,836.7 L482.2,832.5 L503.3,827.2 L529.7,826.1 L556.0,827.2 L566.6,835.1 L587.7,843.1 L614.0,845.7 L640.4,848.4 L666.7,849.4 L687.8,859.0 L708.9,864.2 L730.0,866.9 L743.2,880.1 L748.5,893.4 L766.9,898.7 L788.0,901.3 L814.4,903.9 L840.8,906.6 L872.4,911.9 L904.0,922.5 L935.7,927.8 L967.3,930.4 L998.9,933.1 L1030.6,938.4 L1062.2,943.6 L1088.6,946.3 L1109.7,938.4 L1136.0,935.7 L1162.4,935.7 L1188.8,938.4 L1215.1,941.0 L1236.2,935.7 L1267.9,930.4 L1294.2,919.8 L1304.8,909.2 L1289.0,898.7 L1267.9,893.4 L1246.8,888.1 L1225.7,884.4 L1212.5,877.5 L1207.2,864.2 L1212.5,848.4 L1225.7,840.4 L1252.1,836.7 L1278.4,834.1 L1304.8,832.5 L1325.9,837.8 L1352.2,845.7 L1373.3,843.1 L1383.9,829.8 L1394.4,814.0 L1410.2,803.4 L1431.3,795.4 L1457.7,792.8 L1484.1,790.1 L1510.4,787.5 L1531.5,787.5 L1547.3,795.4 L1568.4,803.4 L1589.5,803.4 L1600.1,811.3 L1610.6,824.6 L1623.8,829.8 L1629.1,843.1 L1626.4,859.0 L1637.0,872.2 L1652.8,882.8 L1668.6,890.7 L1673.9,903.9 L1671.3,922.5 L1668.6,941.0 L1679.2,956.9 L1673.9,970.1 L1684.4,986.0 L1695.0,999.2 L1710.8,1007.2 L1721.3,1020.4 L1729.3,1038.9 L1739.8,1054.8 L1758.3,1065.4 L1774.1,1076.0 L1784.6,1091.8 L1789.9,1113.0 L1792.5,1134.2 L1789.9,1152.7 L1779.4,1165.9 L1774.1,1181.8 L1763.5,1192.4 L1742.4,1197.7 L1721.3,1200.4 L1705.5,1213.6 L1695.0,1226.8 L1684.4,1216.2 L1668.6,1210.9 L1658.1,1197.7 L1637.0,1195.1 L1615.9,1197.7 L1589.5,1203.0 L1563.2,1208.3 L1542.1,1210.9 L1521.0,1203.0 L1494.6,1197.7 L1468.2,1195.1 L1441.9,1189.8 L1415.5,1184.5 L1389.1,1181.8 L1368.1,1176.5 L1352.2,1187.1 L1336.4,1192.4 L1320.6,1197.7 L1304.8,1208.3 L1307.4,1218.9 L1325.9,1221.5 L1352.2,1224.2 L1378.6,1229.5 L1399.7,1237.4 L1410.2,1248.0 L1407.6,1263.9 L1405.0,1279.7 L1394.4,1287.7 L1378.6,1290.3 L1352.2,1293.0 L1325.9,1298.3 L1304.8,1306.2 L1289.0,1314.2 L1273.1,1327.4 L1257.3,1338.0 L1236.2,1335.3 L1215.1,1330.0 L1199.3,1340.6 L1183.5,1345.9 L1167.7,1356.5 L1146.6,1367.1 L1130.8,1375.0 L1115.0,1385.6 L1099.1,1390.9 L1083.3,1398.8 L1062.2,1406.8 L1049.0,1420.0 L1035.9,1414.7 L1020.0,1412.1 L1004.2,1393.5 L991.0,1377.7 L977.9,1359.1 L962.0,1340.6 L946.2,1324.7 L930.4,1311.5 L927.8,1293.0 L933.0,1279.7 L946.2,1271.8 L940.9,1258.6 L925.1,1253.3 L904.0,1253.3 L877.7,1250.6 L856.6,1242.7 L840.8,1232.1 L832.8,1213.6 L824.9,1200.4 L806.5,1195.1 L788.0,1208.3 L766.9,1205.6 L745.8,1208.3 L724.8,1192.4 L693.1,1188.2 L682.6,1189.8 L661.5,1195.1 L648.3,1195.1 L640.4,1181.8 L619.3,1181.8 L592.9,1187.1 L566.6,1193.5 L545.5,1197.7 L524.4,1200.4 L498.0,1203.0 L471.6,1205.6 L445.3,1208.3 L429.5,1216.2 L408.4,1224.2 L387.3,1229.5 L366.2,1237.4 L345.1,1245.3 L324.0,1250.6 L302.9,1258.6 L281.8,1263.9 L260.7,1269.2 L239.6,1274.5 L223.8,1282.4 L215.9,1295.6 L208.0,1311.5 L192.2,1316.8 L176.4,1324.7 L165.8,1335.3 L144.7,1335.3 L131.5,1343.3 L121.0,1350.1 L110.4,1345.9 L102.5,1335.3 L97.3,1322.1 L94.6,1308.9 L86.7,1303.6 L82.5,1293.0Z"/></defs><clipPath id="clipc"><use href="#oc"/></clipPath>
<filter id="fcp" filterUnits="userSpaceOnUse" x="72" y="778" width="1730" height="653" color-interpolation-filters="sRGB">
<feGaussianBlur in="SourceGraphic" stdDeviation="9"/>
<feColorMatrix type="matrix" values="0 0 0 0 0 0 0 0 0 0 0 0 0 0 0 1 0 0 0 0" result="d"/>
<feTurbulence type="fractalNoise" baseFrequency="0.042" numOctaves="5" seed="23" result="t"/>
<feColorMatrix in="t" type="matrix" values="0 0 0 0 0 0 0 0 0 0 0 0 0 0 0 2.0 0 0 0 -0.5" result="n"/>
<feComposite in="d" in2="n" operator="arithmetic" k1="0" k2="16.100" k3="-14.000" k4="-0.3" result="m"/>
<feFlood x="74" y="780" width="1" height="1" flood-color="#000" result="px"/>
<feComposite in="px" in2="px" operator="over" x="72" y="778" width="5" height="5" result="cell"/>
<feTile in="cell" result="grid"/>
<feComposite in="m" in2="grid" operator="in" result="ms"/>
<feMorphology in="ms" operator="dilate" radius="2" result="mp"/>
<feFlood flood-color="#ffa77f" result="c"/>
<feComposite in="c" in2="mp" operator="in"/>
</filter>
<filter id="fcc" filterUnits="userSpaceOnUse" x="72" y="778" width="1730" height="653" color-interpolation-filters="sRGB">
<feGaussianBlur in="SourceGraphic" stdDeviation="8"/>
<feColorMatrix type="matrix" values="0 0 0 0 0 0 0 0 0 0 0 0 0 0 0 1 0 0 0 0" result="d"/>
<feTurbulence type="fractalNoise" baseFrequency="0.17" numOctaves="2" seed="28" result="t"/>
<feColorMatrix in="t" type="matrix" values="0 0 0 0 0 0 0 0 0 0 0 0 0 0 0 2.0 0 0 0 -0.5" result="n"/>
<feComposite in="d" in2="n" operator="arithmetic" k1="0" k2="3.500" k3="-14.000" k4="-0.3" result="m"/>
<feFlood x="74" y="780" width="1" height="1" flood-color="#000" result="px"/>
<feComposite in="px" in2="px" operator="over" x="72" y="778" width="5" height="5" result="cell"/>
<feTile in="cell" result="grid"/>
<feComposite in="m" in2="grid" operator="in" result="ms"/>
<feMorphology in="ms" operator="dilate" radius="2" result="mp"/>
<feFlood flood-color="#ffebbe" result="c"/>
<feComposite in="c" in2="mp" operator="in"/>
</filter>
<filter id="fcr" filterUnits="userSpaceOnUse" x="72" y="778" width="1730" height="653" color-interpolation-filters="sRGB">
<feGaussianBlur in="SourceGraphic" stdDeviation="4.5"/>
<feColorMatrix type="matrix" values="0 0 0 0 0 0 0 0 0 0 0 0 0 0 0 1 0 0 0 0" result="d"/>
<feTurbulence type="fractalNoise" baseFrequency="0.075" numOctaves="5" seed="32" result="t"/>
<feColorMatrix in="t" type="matrix" values="0 0 0 0 0 0 0 0 0 0 0 0 0 0 0 2.0 0 0 0 -0.5" result="n"/>
<feComposite in="d" in2="n" operator="arithmetic" k1="0" k2="16.100" k3="-14.000" k4="-0.3" result="m"/>
<feFlood x="74" y="780" width="1" height="1" flood-color="#000" result="px"/>
<feComposite in="px" in2="px" operator="over" x="72" y="778" width="5" height="5" result="cell"/>
<feTile in="cell" result="grid"/>
<feComposite in="m" in2="grid" operator="in" result="ms"/>
<feMorphology in="ms" operator="dilate" radius="2" result="mp"/>
<feFlood flood-color="#ff0000" result="c"/>
<feComposite in="c" in2="mp" operator="in"/>
</filter>
<clipPath id="ccc0"><rect x="610" y="830" width="52" height="40"/></clipPath>
<clipPath id="ccc1"><rect x="695" y="845" width="32" height="35"/></clipPath>
<clipPath id="ccc2"><rect x="457" y="1190" width="65" height="25"/></clipPath>
<g clip-path="url(#clipc)">
<use href="#oc" fill="#73b2ff"/>
<g filter="url(#fcp)"><rect x="72" y="778" width="1730" height="653" fill="#000"/>
<path d="M640.0,1050.0 L690.0,1040.0 L740.0,1070.0 L790.0,1070.0 L850.0,1050.0 L940.0,1060.0 L1040.0,1040.0 L1090.0,1020.0 L1140.0,1030.0 L1190.0,1050.0 L1265.0,1070.0 L1280.0,1110.0 L1240.0,1150.0 L1265.0,1185.0 L1305.0,1195.0 L1290.0,1220.0 L1340.0,1220.0 L1410.0,1240.0 L1405.0,1280.0 L1340.0,1290.0 L1290.0,1310.0 L1240.0,1330.0 L1165.0,1350.0 L1090.0,1360.0 L1040.0,1345.0 L990.0,1320.0 L940.0,1300.0 L930.0,1270.0 L890.0,1250.0 L840.0,1230.0 L840.0,1200.0 L790.0,1190.0 L740.0,1170.0 L690.0,1160.0 L640.0,1150.0Z" fill="#989898"/>
<path d="M380.0,920.0 L440.0,900.0 L510.0,915.0 L585.0,930.0 L640.0,960.0 L635.0,1050.0 L585.0,1120.0 L560.0,1200.0 L460.0,1200.0 L420.0,1150.0 L410.0,1070.0 L385.0,1010.0 L370.0,970.0Z" fill="#515151"/>
<path d="M1540.0,1030.0 L1590.0,1005.0 L1665.0,1000.0 L1715.0,1020.0 L1740.0,1060.0 L1785.0,1080.0 L1792.5,1140.0 L1780.0,1180.0 L1740.0,1195.0 L1700.0,1225.0 L1665.0,1210.0 L1615.0,1205.0 L1540.0,1205.0 L1515.0,1180.0 L1465.0,1175.0 L1440.0,1160.0 L1490.0,1140.0 L1540.0,1120.0 L1555.0,1080.0Z" fill="#d4d4d4"/>
<path d="M640.0,980.0 L920.0,980.0 L1090.0,1000.0 L1090.0,1020.0 L940.0,1060.0 L790.0,1070.0 L640.0,1050.0Z" fill="#5e5e5e"/>
<path d="M1305.0,1070.0 L1390.0,1050.0 L1465.0,1010.0 L1515.0,1010.0 L1540.0,1030.0 L1555.0,1080.0 L1540.0,1120.0 L1490.0,1140.0 L1440.0,1160.0 L1365.0,1170.0 L1315.0,1150.0Z" fill="#6f6f6f"/>
<path d="M410.0,870.0 L460.0,840.0 L510.0,825.0 L560.0,830.0 L610.0,845.0 L660.0,855.0 L730.0,865.0 L740.0,885.0 L710.0,900.0 L660.0,895.0 L625.0,910.0 L610.0,930.0 L585.0,920.0 L560.0,900.0 L510.0,905.0 L460.0,900.0 L420.0,890.0Z" fill="#a2a2a2"/>
<path d="M920.0,940.0 L990.0,935.0 L1090.0,945.0 L1140.0,935.0 L1215.0,940.0 L1265.0,935.0 L1290.0,915.0 L1340.0,900.0 L1350.0,915.0 L1330.0,935.0 L1290.0,960.0 L1240.0,970.0 L1190.0,980.0 L1140.0,980.0 L1090.0,990.0 L1040.0,980.0 L990.0,970.0 L940.0,970.0Z" fill="#9a9a9a"/>
<path d="M455.0,1060.0 L510.0,1040.0 L565.0,1050.0 L580.0,1110.0 L555.0,1170.0 L510.0,1190.0 L470.0,1165.0 L450.0,1110.0Z" fill="#555555"/>
<path d="M940.0,1300.0 L1165.0,1350.0 L1115.0,1395.0 L1050.0,1420.0 L990.0,1370.0Z" fill="#5e5e5e"/>
<path d="M600.0,985.0 L660.0,970.0 L670.0,1050.0 L660.0,1185.0 L625.0,1175.0 L595.0,1120.0 L605.0,1050.0Z" fill="#737373"/>
<path d="M570.0,970.0 L635.0,960.0 L730.0,990.0 L730.0,1040.0 L660.0,1050.0 L585.0,1020.0Z" fill="#7d7d7d"/>
<path d="M185.0,1095.0 L225.0,1075.0 L285.0,1082.5 L340.0,1070.0 L385.0,1080.0 L380.0,1120.0 L320.0,1135.0 L260.0,1125.0 L195.0,1130.0Z" fill="#676767"/>
<path d="M1680.0,940.0 L1677.3,966.2 L1669.5,982.1 L1656.5,991.8 L1635.0,995.0 L1613.5,991.8 L1600.5,982.1 L1592.7,966.2 L1590.0,940.0 L1592.7,913.8 L1600.5,897.9 L1613.5,888.2 L1635.0,885.0 L1656.5,888.2 L1669.5,897.9 L1677.3,913.8Z" fill="#676767"/>
<path d="M1330.0,855.0 L1365.0,840.0 L1400.0,800.0 L1440.0,790.0 L1515.0,787.5 L1565.0,800.0 L1590.0,805.0 L1580.0,820.0 L1515.0,810.0 L1440.0,810.0 L1415.0,830.0 L1390.0,860.0 L1365.0,885.0 L1340.0,880.0Z" fill="#929292"/>
<path d="M750.0,930.0 L790.0,915.0 L840.0,920.0 L880.0,935.0 L880.0,970.0 L840.0,980.0 L790.0,970.0 L750.0,960.0Z" fill="#a2a2a2"/>
<path d="M225.0,1195.0 L260.0,1180.0 L295.0,1190.0 L300.0,1230.0 L280.0,1260.0 L230.0,1260.0 L215.0,1230.0Z" fill="#aaaaaa"/>
<path d="M82.5,1285.0 L110.0,1290.0 L160.0,1285.0 L210.0,1265.0 L210.0,1290.0 L160.0,1320.0 L115.0,1350.0 L95.0,1320.0Z" fill="#8b8b8b"/>
<path d="M370.0,1200.0 L367.9,1209.5 L361.8,1215.3 L351.7,1218.8 L335.0,1220.0 L318.3,1218.8 L308.2,1215.3 L302.1,1209.5 L300.0,1200.0 L302.1,1190.5 L308.2,1184.7 L318.3,1181.2 L335.0,1180.0 L351.7,1181.2 L361.8,1184.7 L367.9,1190.5Z" fill="#767676"/>
<path d="M475.0,940.0 L473.4,949.5 L468.6,955.3 L460.6,958.8 L447.5,960.0 L434.4,958.8 L426.4,955.3 L421.6,949.5 L420.0,940.0 L421.6,930.5 L426.4,924.7 L434.4,921.2 L447.5,920.0 L460.6,921.2 L468.6,924.7 L473.4,930.5Z" fill="#676767"/>
<path d="M260.0,1165.0 L258.5,1172.2 L254.2,1176.5 L246.9,1179.1 L235.0,1180.0 L223.1,1179.1 L215.8,1176.5 L211.5,1172.2 L210.0,1165.0 L211.5,1157.8 L215.8,1153.5 L223.1,1150.9 L235.0,1150.0 L246.9,1150.9 L254.2,1153.5 L258.5,1157.8Z" fill="#929292"/>
<path d="M1265.0,850.0 L1263.2,854.8 L1258.0,857.6 L1249.3,859.4 L1235.0,860.0 L1220.7,859.4 L1212.0,857.6 L1206.8,854.8 L1205.0,850.0 L1206.8,845.2 L1212.0,842.4 L1220.7,840.6 L1235.0,840.0 L1249.3,840.6 L1258.0,842.4 L1263.2,845.2Z" fill="#676767"/>
<path d="M520.0,990.0 L518.8,994.8 L515.3,997.6 L509.6,999.4 L500.0,1000.0 L490.4,999.4 L484.7,997.6 L481.2,994.8 L480.0,990.0 L481.2,985.2 L484.7,982.4 L490.4,980.6 L500.0,980.0 L509.6,980.6 L515.3,982.4 L518.8,985.2Z" fill="#929292"/>
</g>
<g filter="url(#fcc)"><rect x="72" y="778" width="1730" height="653" fill="#000"/>
<path d="M640.0,1050.0 L690.0,1040.0 L740.0,1070.0 L790.0,1070.0 L850.0,1050.0 L940.0,1060.0 L1040.0,1040.0 L1090.0,1020.0 L1140.0,1030.0 L1190.0,1050.0 L1265.0,1070.0 L1280.0,1110.0 L1240.0,1150.0 L1265.0,1185.0 L1305.0,1195.0 L1290.0,1220.0 L1340.0,1220.0 L1410.0,1240.0 L1405.0,1280.0 L1340.0,1290.0 L1290.0,1310.0 L1240.0,1330.0 L1165.0,1350.0 L1090.0,1360.0 L1040.0,1345.0 L990.0,1320.0 L940.0,1300.0 L930.0,1270.0 L890.0,1250.0 L840.0,1230.0 L840.0,1200.0 L790.0,1190.0 L740.0,1170.0 L690.0,1160.0 L640.0,1150.0Z" fill="#fff"/>
<path d="M380.0,920.0 L440.0,900.0 L510.0,915.0 L585.0,930.0 L640.0,960.0 L635.0,1050.0 L585.0,1120.0 L560.0,1200.0 L460.0,1200.0 L420.0,1150.0 L410.0,1070.0 L385.0,1010.0 L370.0,970.0Z" fill="#fff"/>
<path d="M1540.0,1030.0 L1590.0,1005.0 L1665.0,1000.0 L1715.0,1020.0 L1740.0,1060.0 L1785.0,1080.0 L1792.5,1140.0 L1780.0,1180.0 L1740.0,1195.0 L1700.0,1225.0 L1665.0,1210.0 L1615.0,1205.0 L1540.0,1205.0 L1515.0,1180.0 L1465.0,1175.0 L1440.0,1160.0 L1490.0,1140.0 L1540.0,1120.0 L1555.0,1080.0Z" fill="#000"/>
<path d="M640.0,980.0 L920.0,980.0 L1090.0,1000.0 L1090.0,1020.0 L940.0,1060.0 L790.0,1070.0 L640.0,1050.0Z" fill="#fff"/>
<path d="M1305.0,1070.0 L1390.0,1050.0 L1465.0,1010.0 L1515.0,1010.0 L1540.0,1030.0 L1555.0,1080.0 L1540.0,1120.0 L1490.0,1140.0 L1440.0,1160.0 L1365.0,1170.0 L1315.0,1150.0Z" fill="#fff"/>
<path d="M410.0,870.0 L460.0,840.0 L510.0,825.0 L560.0,830.0 L610.0,845.0 L660.0,855.0 L730.0,865.0 L740.0,885.0 L710.0,900.0 L660.0,895.0 L625.0,910.0 L610.0,930.0 L585.0,920.0 L560.0,900.0 L510.0,905.0 L460.0,900.0 L420.0,890.0Z" fill="#fff"/>
<path d="M920.0,940.0 L990.0,935.0 L1090.0,945.0 L1140.0,935.0 L1215.0,940.0 L1265.0,935.0 L1290.0,915.0 L1340.0,900.0 L1350.0,915.0 L1330.0,935.0 L1290.0,960.0 L1240.0,970.0 L1190.0,980.0 L1140.0,980.0 L1090.0,990.0 L1040.0,980.0 L990.0,970.0 L940.0,970.0Z" fill="#fff"/>
<path d="M455.0,1060.0 L510.0,1040.0 L565.0,1050.0 L580.0,1110.0 L555.0,1170.0 L510.0,1190.0 L470.0,1165.0 L450.0,1110.0Z" fill="#fff"/>
<path d="M940.0,1300.0 L1165.0,1350.0 L1115.0,1395.0 L1050.0,1420.0 L990.0,1370.0Z" fill="#fff"/>
<path d="M600.0,985.0 L660.0,970.0 L670.0,1050.0 L660.0,1185.0 L625.0,1175.0 L595.0,1120.0 L605.0,1050.0Z" fill="#fff"/>
<path d="M570.0,970.0 L635.0,960.0 L730.0,990.0 L730.0,1040.0 L660.0,1050.0 L585.0,1020.0Z" fill="#fff"/>
<path d="M185.0,1095.0 L225.0,1075.0 L285.0,1082.5 L340.0,1070.0 L385.0,1080.0 L380.0,1120.0 L320.0,1135.0 L260.0,1125.0 L195.0,1130.0Z" fill="#fff"/>
<path d="M1680.0,940.0 L1677.3,966.2 L1669.5,982.1 L1656.5,991.8 L1635.0,995.0 L1613.5,991.8 L1600.5,982.1 L1592.7,966.2 L1590.0,940.0 L1592.7,913.8 L1600.5,897.9 L1613.5,888.2 L1635.0,885.0 L1656.5,888.2 L1669.5,897.9 L1677.3,913.8Z" fill="#fff"/>
<path d="M1330.0,855.0 L1365.0,840.0 L1400.0,800.0 L1440.0,790.0 L1515.0,787.5 L1565.0,800.0 L1590.0,805.0 L1580.0,820.0 L1515.0,810.0 L1440.0,810.0 L1415.0,830.0 L1390.0,860.0 L1365.0,885.0 L1340.0,880.0Z" fill="#fff"/>
<path d="M750.0,930.0 L790.0,915.0 L840.0,920.0 L880.0,935.0 L880.0,970.0 L840.0,980.0 L790.0,970.0 L750.0,960.0Z" fill="#fff"/>
<path d="M225.0,1195.0 L260.0,1180.0 L295.0,1190.0 L300.0,1230.0 L280.0,1260.0 L230.0,1260.0 L215.0,1230.0Z" fill="#000"/>
<path d="M82.5,1285.0 L110.0,1290.0 L160.0,1285.0 L210.0,1265.0 L210.0,1290.0 L160.0,1320.0 L115.0,1350.0 L95.0,1320.0Z" fill="#fff"/>
<path d="M370.0,1200.0 L367.9,1209.5 L361.8,1215.3 L351.7,1218.8 L335.0,1220.0 L318.3,1218.8 L308.2,1215.3 L302.1,1209.5 L300.0,1200.0 L302.1,1190.5 L308.2,1184.7 L318.3,1181.2 L335.0,1180.0 L351.7,1181.2 L361.8,1184.7 L367.9,1190.5Z" fill="#fff"/>
<path d="M475.0,940.0 L473.4,949.5 L468.6,955.3 L460.6,958.8 L447.5,960.0 L434.4,958.8 L426.4,955.3 L421.6,949.5 L420.0,940.0 L421.6,930.5 L426.4,924.7 L434.4,921.2 L447.5,920.0 L460.6,921.2 L468.6,924.7 L473.4,930.5Z" fill="#fff"/>
<path d="M260.0,1165.0 L258.5,1172.2 L254.2,1176.5 L246.9,1179.1 L235.0,1180.0 L223.1,1179.1 L215.8,1176.5 L211.5,1172.2 L210.0,1165.0 L211.5,1157.8 L215.8,1153.5 L223.1,1150.9 L235.0,1150.0 L246.9,1150.9 L254.2,1153.5 L258.5,1157.8Z" fill="#fff"/>
<path d="M1265.0,850.0 L1263.2,854.8 L1258.0,857.6 L1249.3,859.4 L1235.0,860.0 L1220.7,859.4 L1212.0,857.6 L1206.8,854.8 L1205.0,850.0 L1206.8,845.2 L1212.0,842.4 L1220.7,840.6 L1235.0,840.0 L1249.3,840.6 L1258.0,842.4 L1263.2,845.2Z" fill="#fff"/>
<path d="M520.0,990.0 L518.8,994.8 L515.3,997.6 L509.6,999.4 L500.0,1000.0 L490.4,999.4 L484.7,997.6 L481.2,994.8 L480.0,990.0 L481.2,985.2 L484.7,982.4 L490.4,980.6 L500.0,980.0 L509.6,980.6 L515.3,982.4 L518.8,985.2Z" fill="#fff"/>
</g>
<g filter="url(#fcr)"><rect x="72" y="778" width="1730" height="653" fill="#000"/>
<path d="M1731.0,1190.0 L1730.2,1192.8 L1728.0,1194.6 L1724.2,1195.7 L1718.0,1196.0 L1711.8,1195.7 L1708.0,1194.6 L1705.8,1192.8 L1705.0,1190.0 L1705.8,1187.2 L1708.0,1185.4 L1711.8,1184.3 L1718.0,1184.0 L1724.2,1184.3 L1728.0,1185.4 L1730.2,1187.2Z" fill="#898989"/>
<path d="M1756.0,1129.2 L1755.4,1132.5 L1753.5,1134.4 L1750.5,1135.6 L1745.5,1136.0 L1740.5,1135.6 L1737.5,1134.4 L1735.6,1132.5 L1735.0,1129.2 L1735.6,1126.0 L1737.5,1124.1 L1740.5,1122.9 L1745.5,1122.5 L1750.5,1122.9 L1753.5,1124.1 L1755.4,1126.0Z" fill="#b3b3b3"/>
<path d="M1706.0,1210.0 L1705.3,1212.8 L1703.5,1214.6 L1700.2,1215.7 L1695.0,1216.0 L1689.8,1215.7 L1686.5,1214.6 L1684.7,1212.8 L1684.0,1210.0 L1684.7,1207.2 L1686.5,1205.4 L1689.8,1204.3 L1695.0,1204.0 L1700.2,1204.3 L1703.5,1205.4 L1705.3,1207.2Z" fill="#898989"/>
<path d="M1521.0,789.8 L1520.4,791.3 L1518.5,792.2 L1515.5,792.8 L1510.5,793.0 L1505.5,792.8 L1502.5,792.2 L1500.6,791.3 L1500.0,789.8 L1500.6,788.2 L1502.5,787.2 L1505.5,786.7 L1510.5,786.5 L1515.5,786.7 L1518.5,787.2 L1520.4,788.2Z" fill="#a8a8a8"/>
</g>
<g clip-path="url(#ccc0)"><use href="#oc" fill="none" stroke="#ff0000" stroke-width="9.0" stroke-linejoin="round"/></g>
<g clip-path="url(#ccc1)"><use href="#oc" fill="none" stroke="#ff0000" stroke-width="7.0" stroke-linejoin="round"/></g>
<g clip-path="url(#ccc2)"><use href="#oc" fill="none" stroke="#ff0000" stroke-width="8" stroke-linejoin="round"/></g>
</g>
<defs><path id="od" d="M1862.5,1281.3 L1871.5,1278.8 L1886.5,1283.8 L1896.6,1288.9 L1911.6,1283.8 L1929.1,1280.3 L1939.1,1273.7 L1956.6,1271.2 L1971.7,1266.2 L1984.2,1261.1 L1989.2,1248.5 L1991.7,1235.9 L1990.7,1218.3 L1984.2,1210.7 L1989.2,1200.7 L1994.2,1193.1 L1986.7,1185.5 L1971.7,1178.0 L1954.1,1172.9 L1939.1,1165.4 L1934.1,1150.3 L1926.6,1140.2 L1941.6,1137.7 L1961.6,1135.1 L1964.2,1122.5 L1966.7,1107.4 L1976.7,1102.4 L1986.7,1089.8 L1999.2,1077.2 L2021.7,1073.1 L2041.8,1074.7 L2054.3,1084.7 L2066.8,1089.8 L2086.8,1082.2 L2099.4,1076.2 L2121.9,1074.7 L2134.4,1071.1 L2141.9,1082.2 L2144.4,1097.3 L2156.9,1102.4 L2169.5,1097.3 L2174.5,1082.2 L2172.0,1067.1 L2161.9,1057.0 L2154.4,1044.4 L2151.9,1031.8 L2149.4,1016.7 L2146.9,1004.1 L2135.9,996.5 L2134.4,983.9 L2144.4,976.4 L2154.4,966.3 L2151.9,951.2 L2154.4,936.1 L2167.0,926.0 L2169.5,910.9 L2167.0,898.3 L2161.9,885.7 L2172.0,878.1 L2187.0,875.6 L2207.0,873.1 L2217.0,857.9 L2222.0,849.4 L2242.1,845.3 L2262.1,840.3 L2287.1,839.3 L2312.2,840.3 L2322.2,847.9 L2342.2,855.4 L2367.3,857.9 L2392.3,860.5 L2417.3,861.5 L2437.4,870.5 L2457.4,875.6 L2477.4,878.1 L2489.9,890.7 L2494.9,903.3 L2512.5,908.3 L2532.5,910.9 L2557.5,913.4 L2582.6,915.9 L2612.6,920.9 L2642.7,931.0 L2672.7,936.1 L2702.8,938.6 L2732.8,941.1 L2762.8,946.1 L2792.9,951.2 L2817.9,953.7 L2838.0,946.1 L2863.0,943.6 L2888.0,943.6 L2913.1,946.1 L2938.1,948.7 L2958.1,943.6 L2988.2,938.6 L3013.2,928.5 L3023.2,918.4 L3008.2,908.3 L2988.2,903.3 L2968.2,898.3 L2948.1,894.7 L2935.6,888.2 L2930.6,875.6 L2935.6,860.5 L2948.1,852.9 L2973.2,849.4 L2998.2,846.9 L3023.2,845.3 L3043.3,850.4 L3068.3,857.9 L3088.3,855.4 L3098.4,842.8 L3108.4,827.7 L3123.4,817.6 L3143.4,810.1 L3168.5,807.5 L3193.5,805.0 L3218.5,802.5 L3238.6,802.5 L3253.6,810.1 L3273.6,817.6 L3293.6,817.6 L3303.7,825.2 L3313.7,837.8 L3326.2,842.8 L3331.2,855.4 L3328.7,870.5 L3338.7,883.1 L3353.7,893.2 L3368.8,900.8 L3373.8,913.4 L3371.3,931.0 L3368.8,948.7 L3378.8,963.8 L3373.8,976.4 L3383.8,991.5 L3393.8,1004.1 L3408.8,1011.7 L3418.8,1024.3 L3426.3,1041.9 L3436.4,1057.0 L3453.9,1067.1 L3468.9,1077.2 L3478.9,1092.3 L3483.9,1112.5 L3486.4,1132.6 L3483.9,1150.3 L3473.9,1162.9 L3468.9,1178.0 L3458.9,1188.1 L3438.9,1193.1 L3418.8,1195.6 L3403.8,1208.2 L3393.8,1220.8 L3383.8,1210.7 L3368.8,1205.7 L3358.7,1193.1 L3338.7,1190.6 L3318.7,1193.1 L3293.6,1198.1 L3268.6,1203.2 L3248.6,1205.7 L3228.5,1198.1 L3203.5,1193.1 L3178.5,1190.6 L3153.4,1185.5 L3128.4,1180.5 L3103.4,1178.0 L3083.3,1172.9 L3068.3,1183.0 L3053.3,1188.1 L3038.3,1193.1 L3023.2,1203.2 L3025.7,1213.3 L3043.3,1215.8 L3068.3,1218.3 L3093.3,1223.3 L3113.4,1230.9 L3123.4,1241.0 L3120.9,1256.1 L3118.4,1271.2 L3108.4,1278.8 L3093.3,1281.3 L3068.3,1283.8 L3043.3,1288.9 L3023.2,1296.4 L3008.2,1304.0 L2993.2,1316.6 L2978.2,1326.7 L2958.1,1324.1 L2938.1,1319.1 L2923.1,1329.2 L2908.1,1334.2 L2893.0,1344.3 L2873.0,1354.4 L2858.0,1361.9 L2843.0,1372.0 L2827.9,1377.1 L2812.9,1384.6 L2792.9,1392.2 L2780.4,1404.8 L2767.9,1399.7 L2752.8,1397.2 L2737.8,1379.6 L2725.3,1364.5 L2712.8,1346.8 L2697.8,1329.2 L2682.7,1314.1 L2667.7,1301.5 L2665.2,1283.8 L2670.2,1271.2 L2682.7,1263.7 L2677.7,1251.1 L2662.7,1246.0 L2642.7,1246.0 L2617.6,1243.5 L2597.6,1235.9 L2582.6,1225.9 L2575.1,1208.2 L2567.6,1195.6 L2550.0,1190.6 L2532.5,1203.2 L2512.5,1200.7 L2492.4,1203.2 L2472.4,1188.1 L2442.4,1184.0 L2432.4,1185.5 L2412.3,1190.6 L2399.8,1190.6 L2392.3,1178.0 L2372.3,1178.0 L2347.2,1183.0 L2322.2,1189.1 L2302.2,1193.1 L2282.1,1195.6 L2257.1,1198.1 L2232.1,1200.7 L2207.0,1203.2 L2192.0,1210.7 L2172.0,1218.3 L2151.9,1223.3 L2131.9,1230.9 L2111.9,1238.5 L2091.8,1243.5 L2071.8,1251.1 L2051.8,1256.1 L2031.8,1261.1 L2011.7,1266.2 L1996.7,1273.7 L1989.2,1286.3 L1981.7,1301.5 L1966.7,1306.5 L1951.6,1314.1 L1941.6,1324.1 L1921.6,1324.1 L1909.1,1331.7 L1899.1,1338.3 L1889.0,1334.2 L1881.5,1324.1 L1876.5,1311.5 L1874.0,1298.9 L1866.5,1293.9 L1862.5,1283.8Z"/></defs><clipPath id="clipd"><use href="#od"/></clipPath>
<filter id="fdp" filterUnits="userSpaceOnUse" x="1852" y="792" width="1644" height="622" color-interpolation-filters="sRGB">
<feGaussianBlur in="SourceGraphic" stdDeviation="5.5"/>
<feColorMatrix type="matrix" values="0 0 0 0 0 0 0 0 0 0 0 0 0 0 0 1 0 0 0 0" result="d"/>
<feTurbulence type="fractalNoise" baseFrequency="0.045" numOctaves="5" seed="31" result="t"/>
<feColorMatrix in="t" type="matrix" values="0 0 0 0 0 0 0 0 0 0 0 0 0 0 0 2.0 0 0 0 -0.5" result="n"/>
<feComposite in="d" in2="n" operator="arithmetic" k1="0" k2="16.100" k3="-14.000" k4="-0.3" result="m"/>
<feFlood x="1854" y="794" width="1" height="1" flood-color="#000" result="px"/>
<feComposite in="px" in2="px" operator="over" x="1852" y="792" width="5" height="5" result="cell"/>
<feTile in="cell" result="grid"/>
<feComposite in="m" in2="grid" operator="in" result="ms"/>
<feMorphology in="ms" operator="dilate" radius="2" result="mp"/>
<feFlood flood-color="#73b2ff" result="c"/>
<feComposite in="c" in2="mp" operator="in"/>
</filter>
<filter id="fdc" filterUnits="userSpaceOnUse" x="1852" y="792" width="1644" height="622" color-interpolation-filters="sRGB">
<feGaussianBlur in="SourceGraphic" stdDeviation="8"/>
<feColorMatrix type="matrix" values="0 0 0 0 0 0 0 0 0 0 0 0 0 0 0 1 0 0 0 0" result="d"/>
<feTurbulence type="fractalNoise" baseFrequency="0.17" numOctaves="2" seed="36" result="t"/>
<feColorMatrix in="t" type="matrix" values="0 0 0 0 0 0 0 0 0 0 0 0 0 0 0 2.0 0 0 0 -0.5" result="n"/>
<feComposite in="d" in2="n" operator="arithmetic" k1="0" k2="3.500" k3="-14.000" k4="-0.3" result="m"/>
<feFlood x="1854" y="794" width="1" height="1" flood-color="#000" result="px"/>
<feComposite in="px" in2="px" operator="over" x="1852" y="792" width="5" height="5" result="cell"/>
<feTile in="cell" result="grid"/>
<feComposite in="m" in2="grid" operator="in" result="ms"/>
<feMorphology in="ms" operator="dilate" radius="2" result="mp"/>
<feFlood flood-color="#ffebbe" result="c"/>
<feComposite in="c" in2="mp" operator="in"/>
</filter>
<filter id="fdr" filterUnits="userSpaceOnUse" x="1852" y="792" width="1644" height="622" color-interpolation-filters="sRGB">
<feGaussianBlur in="SourceGraphic" stdDeviation="4.5"/>
<feColorMatrix type="matrix" values="0 0 0 0 0 0 0 0 0 0 0 0 0 0 0 1 0 0 0 0" result="d"/>
<feTurbulence type="fractalNoise" baseFrequency="0.075" numOctaves="5" seed="40" result="t"/>
<feColorMatrix in="t" type="matrix" values="0 0 0 0 0 0 0 0 0 0 0 0 0 0 0 2.0 0 0 0 -0.5" result="n"/>
<feComposite in="d" in2="n" operator="arithmetic" k1="0" k2="16.100" k3="-14.000" k4="-0.3" result="m"/>
<feFlood x="1854" y="794" width="1" height="1" flood-color="#000" result="px"/>
<feComposite in="px" in2="px" operator="over" x="1852" y="792" width="5" height="5" result="cell"/>
<feTile in="cell" result="grid"/>
<feComposite in="m" in2="grid" operator="in" result="ms"/>
<feMorphology in="ms" operator="dilate" radius="2" result="mp"/>
<feFlood flood-color="#ff0000" result="c"/>
<feComposite in="c" in2="mp" operator="in"/>
</filter>
<clipPath id="ccd0"><rect x="2360" y="850" width="220" height="75"/></clipPath>
<clipPath id="ccd1"><rect x="2580" y="900" width="85" height="50"/></clipPath>
<clipPath id="ccd2"><rect x="2665" y="930" width="150" height="35"/></clipPath>
<clipPath id="ccd3"><rect x="2200" y="1165" width="185" height="45"/></clipPath>
<clipPath id="ccd4"><rect x="2400" y="1175" width="52" height="25"/></clipPath>
<clipPath id="ccd5"><rect x="2925" y="855" width="27" height="45"/></clipPath>
<g clip-path="url(#clipd)">
<use href="#od" fill="#ffa77f"/>
<g filter="url(#fdp)"><rect x="1852" y="792" width="1644" height="622" fill="#000"/>
<path d="M3004.0,1025.0 L3064.0,1010.0 L3134.0,1010.0 L3194.0,1005.0 L3204.0,1030.0 L3164.0,1060.0 L3204.0,1090.0 L3164.0,1110.0 L3114.0,1090.0 L3064.0,1100.0 L3014.0,1090.0 L2974.0,1070.0Z" fill="#8e8e8e"/>
<path d="M3004.0,1100.0 L2999.8,1133.5 L2987.6,1153.6 L2967.4,1165.8 L2934.0,1170.0 L2900.6,1165.8 L2880.4,1153.6 L2868.2,1133.5 L2864.0,1100.0 L2868.2,1066.5 L2880.4,1046.4 L2900.6,1034.2 L2934.0,1030.0 L2967.4,1034.2 L2987.6,1046.4 L2999.8,1066.5Z" fill="#626262"/>
<path d="M2964.0,1225.0 L2958.1,1246.5 L2940.6,1259.5 L2911.8,1267.3 L2864.0,1270.0 L2816.2,1267.3 L2787.4,1259.5 L2769.9,1246.5 L2764.0,1225.0 L2769.9,1203.5 L2787.4,1190.5 L2816.2,1182.7 L2864.0,1180.0 L2911.8,1182.7 L2940.6,1190.5 L2958.1,1203.5Z" fill="#6c6c6c"/>
<path d="M1970.0,1120.0 L2040.0,1115.0 L2080.0,1150.0 L2075.0,1220.0 L2030.0,1230.0 L1990.0,1210.0 L1980.0,1170.0Z" fill="#757575"/>
<path d="M3244.0,975.0 L3239.6,991.7 L3226.4,1001.8 L3204.8,1008.0 L3169.0,1010.0 L3133.2,1008.0 L3111.6,1001.8 L3098.4,991.7 L3094.0,975.0 L3098.4,958.3 L3111.6,948.2 L3133.2,942.0 L3169.0,940.0 L3204.8,942.0 L3226.4,948.2 L3239.6,958.3Z" fill="#868686"/>
<path d="M3034.0,1110.0 L3094.0,1100.0 L3104.0,1130.0 L3064.0,1170.0 L3014.0,1190.0 L2964.0,1220.0 L2929.0,1215.0 L2944.0,1180.0 L2989.0,1160.0 L3014.0,1135.0Z" fill="#b8b8b8"/>
<path d="M2924.0,865.0 L2959.0,844.0 L3014.0,839.0 L3039.0,849.0 L3060.0,865.0 L3055.0,890.0 L3040.0,910.0 L3014.0,935.0 L2984.0,935.0 L2979.0,911.0 L2954.0,896.0 L2928.0,885.0Z" fill="#ffffff"/>
<path d="M2604.0,1110.0 L2664.0,1100.0 L2714.0,1120.0 L2764.0,1150.0 L2739.0,1175.0 L2664.0,1170.0 L2614.0,1140.0Z" fill="#757575"/>
<path d="M2714.0,1260.0 L2754.0,1255.0 L2774.0,1280.0 L2814.0,1290.0 L2864.0,1295.0 L2914.0,1285.0 L2934.0,1310.0 L2919.0,1330.0 L2864.0,1320.0 L2814.0,1325.0 L2764.0,1310.0 L2729.0,1290.0Z" fill="#b8b8b8"/>
<path d="M2714.0,1320.0 L2789.0,1320.0 L2864.0,1340.0 L2889.0,1355.0 L2839.0,1370.0 L2789.0,1365.0 L2749.0,1390.0 L2724.0,1355.0Z" fill="#c1c1c1"/>
<path d="M2949.0,940.0 L2984.0,925.0 L3024.0,920.0 L3064.0,935.0 L3084.0,955.0 L3064.0,980.0 L3024.0,990.0 L2989.0,975.0 L2954.0,960.0Z" fill="#cccccc"/>
<path d="M1955.0,1285.0 L1990.0,1255.0 L2010.0,1235.0 L2050.0,1230.0 L2080.0,1240.0 L2100.0,1230.0 L2080.0,1250.0 L2040.0,1265.0 L1990.0,1290.0 L1985.0,1310.0 L1960.0,1315.0 L1930.0,1310.0 L1905.0,1320.0 L1890.0,1310.0 L1920.0,1295.0Z" fill="#cccccc"/>
<path d="M2399.0,1150.0 L2444.0,1150.0 L2479.0,1150.0 L2524.0,1147.5 L2554.0,1160.0 L2549.0,1185.0 L2514.0,1195.0 L2479.0,1185.0 L2439.0,1180.0 L2399.0,1175.0Z" fill="#d9d9d9"/>
<path d="M2395.0,1170.0 L2430.0,1160.0 L2455.0,1145.0 L2490.0,1150.0 L2530.0,1160.0 L2560.0,1165.0 L2555.0,1190.0 L2530.0,1205.0 L2490.0,1190.0 L2465.0,1175.0 L2430.0,1185.0 L2400.0,1185.0Z" fill="#d9d9d9"/>
<path d="M3244.0,1160.0 L3239.6,1169.5 L3226.4,1175.3 L3204.8,1178.8 L3169.0,1180.0 L3133.2,1178.8 L3111.6,1175.3 L3098.4,1169.5 L3094.0,1160.0 L3098.4,1150.5 L3111.6,1144.7 L3133.2,1141.2 L3169.0,1140.0 L3204.8,1141.2 L3226.4,1144.7 L3239.6,1150.5Z" fill="#6c6c6c"/>
<path d="M2594.0,1200.0 L2639.0,1185.0 L2684.0,1200.0 L2704.0,1230.0 L2664.0,1240.0 L2614.0,1230.0Z" fill="#8e8e8e"/>
<path d="M2220.0,1015.0 L2218.2,1031.7 L2213.0,1041.8 L2204.3,1048.0 L2190.0,1050.0 L2175.7,1048.0 L2167.0,1041.8 L2161.8,1031.7 L2160.0,1015.0 L2161.8,998.3 L2167.0,988.2 L2175.7,982.0 L2190.0,980.0 L2204.3,982.0 L2213.0,988.2 L2218.2,998.3Z" fill="#4e4e4e"/>
<path d="M3164.0,900.0 L3161.7,909.5 L3154.7,915.3 L3143.1,918.8 L3124.0,920.0 L3104.9,918.8 L3093.3,915.3 L3086.3,909.5 L3084.0,900.0 L3086.3,890.5 L3093.3,884.7 L3104.9,881.2 L3124.0,880.0 L3143.1,881.2 L3154.7,884.7 L3161.7,890.5Z" fill="#868686"/>
<path d="M2814.0,1245.0 L2812.2,1257.0 L2807.0,1264.2 L2798.3,1268.5 L2784.0,1270.0 L2769.7,1268.5 L2761.0,1264.2 L2755.8,1257.0 L2754.0,1245.0 L2755.8,1233.0 L2761.0,1225.8 L2769.7,1221.5 L2784.0,1220.0 L2798.3,1221.5 L2807.0,1225.8 L2812.2,1233.0Z" fill="#868686"/>
<path d="M2590.0,1215.0 L2640.0,1200.0 L2680.0,1220.0 L2665.0,1240.0 L2610.0,1240.0Z" fill="#969696"/>
<path d="M2135.0,1195.0 L2180.0,1185.0 L2200.0,1190.0 L2190.0,1210.0 L2160.0,1225.0 L2120.0,1230.0Z" fill="#b8b8b8"/>
<path d="M2714.0,1310.0 L2712.5,1319.5 L2708.2,1325.3 L2700.9,1328.8 L2689.0,1330.0 L2677.1,1328.8 L2669.8,1325.3 L2665.5,1319.5 L2664.0,1310.0 L2665.5,1300.5 L2669.8,1294.7 L2677.1,1291.2 L2689.0,1290.0 L2700.9,1291.2 L2708.2,1294.7 L2712.5,1300.5Z" fill="#868686"/>
<path d="M2814.0,1385.0 L2812.1,1392.2 L2806.4,1396.5 L2797.0,1399.1 L2781.5,1400.0 L2766.0,1399.1 L2756.6,1396.5 L2750.9,1392.2 L2749.0,1385.0 L2750.9,1377.8 L2756.6,1373.5 L2766.0,1370.9 L2781.5,1370.0 L2797.0,1370.9 L2806.4,1373.5 L2812.1,1377.8Z" fill="#969696"/>
<path d="M3044.0,1285.0 L3042.2,1292.2 L3037.0,1296.5 L3028.3,1299.1 L3014.0,1300.0 L2999.7,1299.1 L2991.0,1296.5 L2985.8,1292.2 L2984.0,1285.0 L2985.8,1277.8 L2991.0,1273.5 L2999.7,1270.9 L3014.0,1270.0 L3028.3,1270.9 L3037.0,1273.5 L3042.2,1277.8Z" fill="#b8b8b8"/>
<path d="M2720.0,1155.0 L2718.2,1162.2 L2713.0,1166.5 L2704.3,1169.1 L2690.0,1170.0 L2675.7,1169.1 L2667.0,1166.5 L2661.8,1162.2 L2660.0,1155.0 L2661.8,1147.8 L2667.0,1143.5 L2675.7,1140.9 L2690.0,1140.0 L2704.3,1140.9 L2713.0,1143.5 L2718.2,1147.8Z" fill="#969696"/>
<path d="M2620.0,1175.0 L2618.4,1182.2 L2613.6,1186.5 L2605.7,1189.1 L2592.5,1190.0 L2579.3,1189.1 L2571.4,1186.5 L2566.6,1182.2 L2565.0,1175.0 L2566.6,1167.8 L2571.4,1163.5 L2579.3,1160.9 L2592.5,1160.0 L2605.7,1160.9 L2613.6,1163.5 L2618.4,1167.8Z" fill="#757575"/>
<path d="M2660.0,1125.0 L2658.5,1132.2 L2654.2,1136.5 L2646.9,1139.1 L2635.0,1140.0 L2623.1,1139.1 L2615.8,1136.5 L2611.5,1132.2 L2610.0,1125.0 L2611.5,1117.8 L2615.8,1113.5 L2623.1,1110.9 L2635.0,1110.0 L2646.9,1110.9 L2654.2,1113.5 L2658.5,1117.8Z" fill="#757575"/>
<path d="M3309.0,855.0 L3307.7,862.1 L3303.8,866.5 L3297.2,869.1 L3286.5,870.0 L3275.8,869.1 L3269.2,866.5 L3265.3,862.1 L3264.0,855.0 L3265.3,847.9 L3269.2,843.5 L3275.8,840.9 L3286.5,840.0 L3297.2,840.9 L3303.8,843.5 L3307.7,847.9Z" fill="#626262"/>
<path d="M2345.0,956.2 L2343.4,961.6 L2338.6,964.9 L2330.7,966.9 L2317.5,967.5 L2304.3,966.9 L2296.4,964.9 L2291.6,961.6 L2290.0,956.2 L2291.6,950.9 L2296.4,947.6 L2304.3,945.6 L2317.5,945.0 L2330.7,945.6 L2338.6,947.6 L2343.4,950.9Z" fill="#c1c1c1"/>
<path d="M3194.0,837.5 L3191.7,841.1 L3184.7,843.2 L3173.1,844.5 L3154.0,845.0 L3134.9,844.5 L3123.3,843.2 L3116.3,841.1 L3114.0,837.5 L3116.3,833.9 L3123.3,831.8 L3134.9,830.5 L3154.0,830.0 L3173.1,830.5 L3184.7,831.8 L3191.7,833.9Z" fill="#626262"/>
<path d="M3289.0,882.5 L3286.8,886.1 L3280.2,888.2 L3269.4,889.5 L3251.5,890.0 L3233.6,889.5 L3222.8,888.2 L3216.2,886.1 L3214.0,882.5 L3216.2,878.9 L3222.8,876.8 L3233.6,875.5 L3251.5,875.0 L3269.4,875.5 L3280.2,876.8 L3286.8,878.9Z" fill="#868686"/>
<path d="M2660.0,1002.5 L2658.8,1008.5 L2655.3,1012.0 L2649.6,1014.2 L2640.0,1015.0 L2630.4,1014.2 L2624.7,1012.0 L2621.2,1008.5 L2620.0,1002.5 L2621.2,996.5 L2624.7,993.0 L2630.4,990.8 L2640.0,990.0 L2649.6,990.8 L2655.3,993.0 L2658.8,996.5Z" fill="#757575"/>
<path d="M2280.0,1182.5 L2278.5,1186.1 L2274.2,1188.2 L2266.9,1189.5 L2255.0,1190.0 L2243.1,1189.5 L2235.8,1188.2 L2231.5,1186.1 L2230.0,1182.5 L2231.5,1178.9 L2235.8,1176.8 L2243.1,1175.5 L2255.0,1175.0 L2266.9,1175.5 L2274.2,1176.8 L2278.5,1178.9Z" fill="#b8b8b8"/>
<path d="M2984.0,1317.5 L2982.7,1321.1 L2978.8,1323.2 L2972.2,1324.5 L2961.5,1325.0 L2950.8,1324.5 L2944.2,1323.2 L2940.3,1321.1 L2939.0,1317.5 L2940.3,1313.9 L2944.2,1311.8 L2950.8,1310.5 L2961.5,1310.0 L2972.2,1310.5 L2978.8,1311.8 L2982.7,1313.9Z" fill="#a6a6a6"/>
<path d="M2150.0,982.5 L2149.4,986.1 L2147.7,988.2 L2144.8,989.5 L2140.0,990.0 L2135.2,989.5 L2132.3,988.2 L2130.6,986.1 L2130.0,982.5 L2130.6,978.9 L2132.3,976.8 L2135.2,975.5 L2140.0,975.0 L2144.8,975.5 L2147.7,976.8 L2149.4,978.9Z" fill="#a6a6a6"/>
</g>
<g filter="url(#fdc)"><rect x="1852" y="792" width="1644" height="622" fill="#000"/>
<path d="M3004.0,1025.0 L3064.0,1010.0 L3134.0,1010.0 L3194.0,1005.0 L3204.0,1030.0 L3164.0,1060.0 L3204.0,1090.0 L3164.0,1110.0 L3114.0,1090.0 L3064.0,1100.0 L3014.0,1090.0 L2974.0,1070.0Z" fill="#fff"/>
<path d="M3004.0,1100.0 L2999.8,1133.5 L2987.6,1153.6 L2967.4,1165.8 L2934.0,1170.0 L2900.6,1165.8 L2880.4,1153.6 L2868.2,1133.5 L2864.0,1100.0 L2868.2,1066.5 L2880.4,1046.4 L2900.6,1034.2 L2934.0,1030.0 L2967.4,1034.2 L2987.6,1046.4 L2999.8,1066.5Z" fill="#fff"/>
<path d="M2964.0,1225.0 L2958.1,1246.5 L2940.6,1259.5 L2911.8,1267.3 L2864.0,1270.0 L2816.2,1267.3 L2787.4,1259.5 L2769.9,1246.5 L2764.0,1225.0 L2769.9,1203.5 L2787.4,1190.5 L2816.2,1182.7 L2864.0,1180.0 L2911.8,1182.7 L2940.6,1190.5 L2958.1,1203.5Z" fill="#fff"/>
<path d="M1970.0,1120.0 L2040.0,1115.0 L2080.0,1150.0 L2075.0,1220.0 L2030.0,1230.0 L1990.0,1210.0 L1980.0,1170.0Z" fill="#fff"/>
<path d="M3244.0,975.0 L3239.6,991.7 L3226.4,1001.8 L3204.8,1008.0 L3169.0,1010.0 L3133.2,1008.0 L3111.6,1001.8 L3098.4,991.7 L3094.0,975.0 L3098.4,958.3 L3111.6,948.2 L3133.2,942.0 L3169.0,940.0 L3204.8,942.0 L3226.4,948.2 L3239.6,958.3Z" fill="#fff"/>
<path d="M3034.0,1110.0 L3094.0,1100.0 L3104.0,1130.0 L3064.0,1170.0 L3014.0,1190.0 L2964.0,1220.0 L2929.0,1215.0 L2944.0,1180.0 L2989.0,1160.0 L3014.0,1135.0Z" fill="#fff"/>
<path d="M2924.0,865.0 L2959.0,844.0 L3014.0,839.0 L3039.0,849.0 L3060.0,865.0 L3055.0,890.0 L3040.0,910.0 L3014.0,935.0 L2984.0,935.0 L2979.0,911.0 L2954.0,896.0 L2928.0,885.0Z" fill="#000"/>
<path d="M2604.0,1110.0 L2664.0,1100.0 L2714.0,1120.0 L2764.0,1150.0 L2739.0,1175.0 L2664.0,1170.0 L2614.0,1140.0Z" fill="#fff"/>
<path d="M2714.0,1260.0 L2754.0,1255.0 L2774.0,1280.0 L2814.0,1290.0 L2864.0,1295.0 L2914.0,1285.0 L2934.0,1310.0 L2919.0,1330.0 L2864.0,1320.0 L2814.0,1325.0 L2764.0,1310.0 L2729.0,1290.0Z" fill="#fff"/>
<path d="M2714.0,1320.0 L2789.0,1320.0 L2864.0,1340.0 L2889.0,1355.0 L2839.0,1370.0 L2789.0,1365.0 L2749.0,1390.0 L2724.0,1355.0Z" fill="#000"/>
<path d="M2949.0,940.0 L2984.0,925.0 L3024.0,920.0 L3064.0,935.0 L3084.0,955.0 L3064.0,980.0 L3024.0,990.0 L2989.0,975.0 L2954.0,960.0Z" fill="#000"/>
<path d="M1955.0,1285.0 L1990.0,1255.0 L2010.0,1235.0 L2050.0,1230.0 L2080.0,1240.0 L2100.0,1230.0 L2080.0,1250.0 L2040.0,1265.0 L1990.0,1290.0 L1985.0,1310.0 L1960.0,1315.0 L1930.0,1310.0 L1905.0,1320.0 L1890.0,1310.0 L1920.0,1295.0Z" fill="#000"/>
<path d="M2399.0,1150.0 L2444.0,1150.0 L2479.0,1150.0 L2524.0,1147.5 L2554.0,1160.0 L2549.0,1185.0 L2514.0,1195.0 L2479.0,1185.0 L2439.0,1180.0 L2399.0,1175.0Z" fill="#000"/>
<path d="M2395.0,1170.0 L2430.0,1160.0 L2455.0,1145.0 L2490.0,1150.0 L2530.0,1160.0 L2560.0,1165.0 L2555.0,1190.0 L2530.0,1205.0 L2490.0,1190.0 L2465.0,1175.0 L2430.0,1185.0 L2400.0,1185.0Z" fill="#000"/>
<path d="M3244.0,1160.0 L3239.6,1169.5 L3226.4,1175.3 L3204.8,1178.8 L3169.0,1180.0 L3133.2,1178.8 L3111.6,1175.3 L3098.4,1169.5 L3094.0,1160.0 L3098.4,1150.5 L3111.6,1144.7 L3133.2,1141.2 L3169.0,1140.0 L3204.8,1141.2 L3226.4,1144.7 L3239.6,1150.5Z" fill="#fff"/>
<path d="M2594.0,1200.0 L2639.0,1185.0 L2684.0,1200.0 L2704.0,1230.0 L2664.0,1240.0 L2614.0,1230.0Z" fill="#fff"/>
<path d="M2220.0,1015.0 L2218.2,1031.7 L2213.0,1041.8 L2204.3,1048.0 L2190.0,1050.0 L2175.7,1048.0 L2167.0,1041.8 L2161.8,1031.7 L2160.0,1015.0 L2161.8,998.3 L2167.0,988.2 L2175.7,982.0 L2190.0,980.0 L2204.3,982.0 L2213.0,988.2 L2218.2,998.3Z" fill="#fff"/>
<path d="M3164.0,900.0 L3161.7,909.5 L3154.7,915.3 L3143.1,918.8 L3124.0,920.0 L3104.9,918.8 L3093.3,915.3 L3086.3,909.5 L3084.0,900.0 L3086.3,890.5 L3093.3,884.7 L3104.9,881.2 L3124.0,880.0 L3143.1,881.2 L3154.7,884.7 L3161.7,890.5Z" fill="#fff"/>
<path d="M2814.0,1245.0 L2812.2,1257.0 L2807.0,1264.2 L2798.3,1268.5 L2784.0,1270.0 L2769.7,1268.5 L2761.0,1264.2 L2755.8,1257.0 L2754.0,1245.0 L2755.8,1233.0 L2761.0,1225.8 L2769.7,1221.5 L2784.0,1220.0 L2798.3,1221.5 L2807.0,1225.8 L2812.2,1233.0Z" fill="#fff"/>
<path d="M2590.0,1215.0 L2640.0,1200.0 L2680.0,1220.0 L2665.0,1240.0 L2610.0,1240.0Z" fill="#fff"/>
<path d="M2135.0,1195.0 L2180.0,1185.0 L2200.0,1190.0 L2190.0,1210.0 L2160.0,1225.0 L2120.0,1230.0Z" fill="#fff"/>
<path d="M2714.0,1310.0 L2712.5,1319.5 L2708.2,1325.3 L2700.9,1328.8 L2689.0,1330.0 L2677.1,1328.8 L2669.8,1325.3 L2665.5,1319.5 L2664.0,1310.0 L2665.5,1300.5 L2669.8,1294.7 L2677.1,1291.2 L2689.0,1290.0 L2700.9,1291.2 L2708.2,1294.7 L2712.5,1300.5Z" fill="#fff"/>
<path d="M2814.0,1385.0 L2812.1,1392.2 L2806.4,1396.5 L2797.0,1399.1 L2781.5,1400.0 L2766.0,1399.1 L2756.6,1396.5 L2750.9,1392.2 L2749.0,1385.0 L2750.9,1377.8 L2756.6,1373.5 L2766.0,1370.9 L2781.5,1370.0 L2797.0,1370.9 L2806.4,1373.5 L2812.1,1377.8Z" fill="#fff"/>
<path d="M3044.0,1285.0 L3042.2,1292.2 L3037.0,1296.5 L3028.3,1299.1 L3014.0,1300.0 L2999.7,1299.1 L2991.0,1296.5 L2985.8,1292.2 L2984.0,1285.0 L2985.8,1277.8 L2991.0,1273.5 L2999.7,1270.9 L3014.0,1270.0 L3028.3,1270.9 L3037.0,1273.5 L3042.2,1277.8Z" fill="#fff"/>
<path d="M2720.0,1155.0 L2718.2,1162.2 L2713.0,1166.5 L2704.3,1169.1 L2690.0,1170.0 L2675.7,1169.1 L2667.0,1166.5 L2661.8,1162.2 L2660.0,1155.0 L2661.8,1147.8 L2667.0,1143.5 L2675.7,1140.9 L2690.0,1140.0 L2704.3,1140.9 L2713.0,1143.5 L2718.2,1147.8Z" fill="#fff"/>
<path d="M2620.0,1175.0 L2618.4,1182.2 L2613.6,1186.5 L2605.7,1189.1 L2592.5,1190.0 L2579.3,1189.1 L2571.4,1186.5 L2566.6,1182.2 L2565.0,1175.0 L2566.6,1167.8 L2571.4,1163.5 L2579.3,1160.9 L2592.5,1160.0 L2605.7,1160.9 L2613.6,1163.5 L2618.4,1167.8Z" fill="#fff"/>
<path d="M2660.0,1125.0 L2658.5,1132.2 L2654.2,1136.5 L2646.9,1139.1 L2635.0,1140.0 L2623.1,1139.1 L2615.8,1136.5 L2611.5,1132.2 L2610.0,1125.0 L2611.5,1117.8 L2615.8,1113.5 L2623.1,1110.9 L2635.0,1110.0 L2646.9,1110.9 L2654.2,1113.5 L2658.5,1117.8Z" fill="#fff"/>
<path d="M3309.0,855.0 L3307.7,862.1 L3303.8,866.5 L3297.2,869.1 L3286.5,870.0 L3275.8,869.1 L3269.2,866.5 L3265.3,862.1 L3264.0,855.0 L3265.3,847.9 L3269.2,843.5 L3275.8,840.9 L3286.5,840.0 L3297.2,840.9 L3303.8,843.5 L3307.7,847.9Z" fill="#fff"/>
<path d="M2345.0,956.2 L2343.4,961.6 L2338.6,964.9 L2330.7,966.9 L2317.5,967.5 L2304.3,966.9 L2296.4,964.9 L2291.6,961.6 L2290.0,956.2 L2291.6,950.9 L2296.4,947.6 L2304.3,945.6 L2317.5,945.0 L2330.7,945.6 L2338.6,947.6 L2343.4,950.9Z" fill="#000"/>
<path d="M3194.0,837.5 L3191.7,841.1 L3184.7,843.2 L3173.1,844.5 L3154.0,845.0 L3134.9,844.5 L3123.3,843.2 L3116.3,841.1 L3114.0,837.5 L3116.3,833.9 L3123.3,831.8 L3134.9,830.5 L3154.0,830.0 L3173.1,830.5 L3184.7,831.8 L3191.7,833.9Z" fill="#fff"/>
<path d="M3289.0,882.5 L3286.8,886.1 L3280.2,888.2 L3269.4,889.5 L3251.5,890.0 L3233.6,889.5 L3222.8,888.2 L3216.2,886.1 L3214.0,882.5 L3216.2,878.9 L3222.8,876.8 L3233.6,875.5 L3251.5,875.0 L3269.4,875.5 L3280.2,876.8 L3286.8,878.9Z" fill="#fff"/>
<path d="M2660.0,1002.5 L2658.8,1008.5 L2655.3,1012.0 L2649.6,1014.2 L2640.0,1015.0 L2630.4,1014.2 L2624.7,1012.0 L2621.2,1008.5 L2620.0,1002.5 L2621.2,996.5 L2624.7,993.0 L2630.4,990.8 L2640.0,990.0 L2649.6,990.8 L2655.3,993.0 L2658.8,996.5Z" fill="#fff"/>
<path d="M2280.0,1182.5 L2278.5,1186.1 L2274.2,1188.2 L2266.9,1189.5 L2255.0,1190.0 L2243.1,1189.5 L2235.8,1188.2 L2231.5,1186.1 L2230.0,1182.5 L2231.5,1178.9 L2235.8,1176.8 L2243.1,1175.5 L2255.0,1175.0 L2266.9,1175.5 L2274.2,1176.8 L2278.5,1178.9Z" fill="#fff"/>
<path d="M2984.0,1317.5 L2982.7,1321.1 L2978.8,1323.2 L2972.2,1324.5 L2961.5,1325.0 L2950.8,1324.5 L2944.2,1323.2 L2940.3,1321.1 L2939.0,1317.5 L2940.3,1313.9 L2944.2,1311.8 L2950.8,1310.5 L2961.5,1310.0 L2972.2,1310.5 L2978.8,1311.8 L2982.7,1313.9Z" fill="#fff"/>
<path d="M2150.0,982.5 L2149.4,986.1 L2147.7,988.2 L2144.8,989.5 L2140.0,990.0 L2135.2,989.5 L2132.3,988.2 L2130.6,986.1 L2130.0,982.5 L2130.6,978.9 L2132.3,976.8 L2135.2,975.5 L2140.0,975.0 L2144.8,975.5 L2147.7,976.8 L2149.4,978.9Z" fill="#fff"/>
</g>
<g filter="url(#fdr)"><rect x="1852" y="792" width="1644" height="622" fill="#000"/>
<path d="M2635.0,980.0 L2690.0,965.0 L2740.0,970.0 L2780.0,1000.0 L2782.5,1050.0 L2765.0,1110.0 L2720.0,1122.5 L2660.0,1110.0 L2640.0,1070.0 L2620.0,1025.0Z" fill="#3d3d3d"/>
<path d="M2392.5,965.0 L2420.0,952.5 L2460.0,957.5 L2490.0,950.0 L2515.0,940.0 L2537.5,947.5 L2545.0,980.0 L2537.5,1015.0 L2510.0,1022.5 L2485.0,1005.0 L2455.0,1012.5 L2430.0,1025.0 L2410.0,1017.5 L2400.0,995.0Z" fill="#6e6e6e"/>
<path d="M2510.0,1035.0 L2560.0,1030.0 L2565.0,1065.0 L2515.0,1070.0Z" fill="#585858"/>
<path d="M2230.0,1110.0 L2270.0,1107.5 L2272.5,1150.0 L2240.0,1152.5Z" fill="#757575"/>
<path d="M2715.0,1062.5 L2750.0,1060.0 L2752.5,1100.0 L2730.0,1107.5 L2716.0,1090.0Z" fill="#909090"/>
<path d="M2437.5,967.5 L2485.0,970.0 L2490.0,990.0 L2465.0,997.5 L2440.0,990.0Z" fill="#b3b3b3"/>
<path d="M2507.5,985.0 L2540.0,987.5 L2537.5,1015.0 L2510.0,1017.5Z" fill="#a8a8a8"/>
<path d="M2425.0,1042.5 L2465.0,1040.0 L2467.5,1062.5 L2430.0,1065.0Z" fill="#7c7c7c"/>
<path d="M2495.0,950.0 L2535.0,949.0 L2532.5,972.5 L2505.0,975.0Z" fill="#9f9f9f"/>
<path d="M2275.0,890.0 L2315.0,889.0 L2316.0,907.5 L2276.0,908.5Z" fill="#a8a8a8"/>
<path d="M2647.5,1070.0 L2670.0,1067.5 L2672.5,1100.0 L2650.0,1102.5Z" fill="#909090"/>
<path d="M2690.0,1022.5 L2725.0,1021.0 L2726.0,1040.0 L2691.0,1041.5Z" fill="#828282"/>
<path d="M2340.0,897.5 L2380.0,896.0 L2381.0,912.5 L2341.0,913.5Z" fill="#a8a8a8"/>
<path d="M3354.0,1002.5 L3353.2,1008.5 L3351.1,1012.0 L3347.4,1014.2 L3341.5,1015.0 L3335.6,1014.2 L3331.9,1012.0 L3329.8,1008.5 L3329.0,1002.5 L3329.8,996.5 L3331.9,993.0 L3335.6,990.8 L3341.5,990.0 L3347.4,990.8 L3351.1,993.0 L3353.2,996.5Z" fill="#676767"/>
<path d="M2710.0,970.0 L2735.0,970.0 L2735.0,985.0 L2710.0,985.0Z" fill="#7c7c7c"/>
<path d="M2854.0,1330.5 L2852.8,1333.2 L2849.3,1334.7 L2843.6,1335.7 L2834.0,1336.0 L2824.4,1335.7 L2818.7,1334.7 L2815.2,1333.2 L2814.0,1330.5 L2815.2,1327.8 L2818.7,1326.3 L2824.4,1325.3 L2834.0,1325.0 L2843.6,1325.3 L2849.3,1326.3 L2852.8,1327.8Z" fill="#c0c0c0"/>
<path d="M2340.0,1049.0 L2365.0,1047.5 L2366.0,1061.0 L2341.0,1062.5Z" fill="#979797"/>
<path d="M2375.0,860.0 L2400.0,861.0 L2401.0,870.0 L2376.0,870.0Z" fill="#c0c0c0"/>
<path d="M2410.0,1012.5 L2425.0,1010.0 L2426.0,1024.0 L2411.0,1025.0Z" fill="#9f9f9f"/>
<path d="M2225.0,1079.0 L2240.0,1079.0 L2240.0,1090.0 L2225.0,1090.0Z" fill="#898989"/>
</g>
<path d="M2854.0,1332.5 L2889.0,1337.5" fill="none" stroke="#ff0000" stroke-width="3" stroke-linejoin="round" stroke-linecap="round"/>
<path d="M2729.0,1282.5 L2779.0,1305.0" fill="none" stroke="#ff0000" stroke-width="2.5" stroke-linejoin="round" stroke-linecap="round"/>
<path d="M3014.0,906.0 L3038.0,896.0" fill="none" stroke="#0070ff" stroke-width="6" stroke-linejoin="round" stroke-linecap="round"/>
<path d="M2984.0,922.5 L3014.0,919.0" fill="none" stroke="#0070ff" stroke-width="3" stroke-linejoin="round" stroke-linecap="round"/>
<g clip-path="url(#ccd0)"><use href="#od" fill="none" stroke="#ff0000" stroke-width="8" stroke-linejoin="round"/></g>
<g clip-path="url(#ccd1)"><use href="#od" fill="none" stroke="#ff0000" stroke-width="16" stroke-linejoin="round"/></g>
<g clip-path="url(#ccd2)"><use href="#od" fill="none" stroke="#ff0000" stroke-width="7.0" stroke-linejoin="round"/></g>
<g clip-path="url(#ccd3)"><use href="#od" fill="none" stroke="#ff0000" stroke-width="10" stroke-linejoin="round"/></g>
<g clip-path="url(#ccd4)"><use href="#od" fill="none" stroke="#ff0000" stroke-width="6" stroke-linejoin="round"/></g>
<g clip-path="url(#ccd5)"><use href="#od" fill="none" stroke="#ff0000" stroke-width="9.0" stroke-linejoin="round"/></g>
</g>
<defs><path id="oe" d="M120.0,2028.9 L129.2,2026.3 L144.6,2031.5 L154.8,2036.6 L170.2,2031.5 L188.1,2027.9 L198.3,2021.2 L216.2,2018.6 L231.6,2013.5 L244.4,2008.3 L249.5,1995.5 L252.1,1982.6 L251.0,1964.6 L244.4,1956.9 L249.5,1946.6 L254.6,1938.9 L246.9,1931.1 L231.6,1923.4 L213.7,1918.3 L198.3,1910.5 L193.2,1895.1 L185.5,1884.8 L200.9,1882.2 L221.3,1879.7 L223.9,1866.8 L226.5,1851.4 L236.7,1846.2 L246.9,1833.4 L259.7,1820.5 L282.8,1816.4 L303.2,1817.9 L316.0,1828.2 L328.8,1833.4 L349.3,1825.6 L362.1,1819.5 L385.1,1817.9 L397.9,1814.3 L405.6,1825.6 L408.2,1841.1 L421.0,1846.2 L433.8,1841.1 L438.9,1825.6 L436.3,1810.2 L426.1,1799.9 L418.4,1787.0 L415.8,1774.2 L413.3,1758.7 L410.7,1745.9 L399.5,1738.1 L397.9,1725.3 L408.2,1717.6 L418.4,1707.3 L415.8,1691.8 L418.4,1676.4 L431.2,1666.1 L433.8,1650.6 L431.2,1637.8 L426.1,1624.9 L436.3,1617.2 L451.7,1614.6 L472.2,1612.1 L482.4,1596.6 L487.5,1587.9 L508.0,1583.7 L528.5,1578.6 L554.0,1577.6 L579.6,1578.6 L589.9,1586.3 L610.4,1594.0 L635.9,1596.6 L661.5,1599.2 L687.1,1600.2 L707.6,1609.5 L728.1,1614.6 L748.6,1617.2 L761.3,1630.1 L766.5,1642.9 L784.4,1648.1 L804.9,1650.6 L830.4,1653.2 L856.0,1655.8 L886.8,1660.9 L917.5,1671.2 L948.2,1676.4 L978.9,1679.0 L1009.6,1681.5 L1040.3,1686.7 L1071.0,1691.8 L1096.6,1694.4 L1117.1,1686.7 L1142.7,1684.1 L1168.3,1684.1 L1193.9,1686.7 L1219.5,1689.2 L1239.9,1684.1 L1270.6,1679.0 L1296.2,1668.7 L1306.5,1658.4 L1291.1,1648.1 L1270.6,1642.9 L1250.2,1637.8 L1229.7,1634.2 L1216.9,1627.5 L1211.8,1614.6 L1216.9,1599.2 L1229.7,1591.5 L1255.3,1587.9 L1280.9,1585.3 L1306.5,1583.7 L1326.9,1588.9 L1352.5,1596.6 L1373.0,1594.0 L1383.2,1581.2 L1393.5,1565.7 L1408.8,1555.4 L1429.3,1547.7 L1454.9,1545.1 L1480.5,1542.6 L1506.1,1540.0 L1526.6,1540.0 L1541.9,1547.7 L1562.4,1555.4 L1582.9,1555.4 L1593.1,1563.2 L1603.3,1576.0 L1616.1,1581.2 L1621.3,1594.0 L1618.7,1609.5 L1628.9,1622.3 L1644.3,1632.6 L1659.6,1640.4 L1664.8,1653.2 L1662.2,1671.2 L1659.6,1689.2 L1669.9,1704.7 L1664.8,1717.6 L1675.0,1733.0 L1685.2,1745.9 L1700.6,1753.6 L1710.8,1766.4 L1718.5,1784.5 L1728.7,1799.9 L1746.7,1810.2 L1762.0,1820.5 L1772.3,1835.9 L1777.4,1856.5 L1779.9,1877.1 L1777.4,1895.1 L1767.1,1908.0 L1762.0,1923.4 L1751.8,1933.7 L1731.3,1938.9 L1710.8,1941.4 L1695.5,1954.3 L1685.2,1967.2 L1675.0,1956.9 L1659.6,1951.7 L1649.4,1938.9 L1628.9,1936.3 L1608.5,1938.9 L1582.9,1944.0 L1557.3,1949.1 L1536.8,1951.7 L1516.3,1944.0 L1490.7,1938.9 L1465.1,1936.3 L1439.5,1931.1 L1414.0,1926.0 L1388.4,1923.4 L1367.9,1918.3 L1352.5,1928.6 L1337.2,1933.7 L1321.8,1938.9 L1306.5,1949.1 L1309.0,1959.4 L1326.9,1962.0 L1352.5,1964.6 L1378.1,1969.7 L1398.6,1977.5 L1408.8,1987.7 L1406.3,2003.2 L1403.7,2018.6 L1393.5,2026.3 L1378.1,2028.9 L1352.5,2031.5 L1326.9,2036.6 L1306.5,2044.4 L1291.1,2052.1 L1275.8,2064.9 L1260.4,2075.2 L1239.9,2072.7 L1219.5,2067.5 L1204.1,2077.8 L1188.7,2083.0 L1173.4,2093.2 L1152.9,2103.5 L1137.6,2111.3 L1122.2,2121.6 L1106.8,2126.7 L1091.5,2134.4 L1071.0,2142.1 L1058.2,2155.0 L1045.4,2149.9 L1030.1,2147.3 L1014.7,2129.3 L1001.9,2113.8 L989.1,2095.8 L973.8,2077.8 L958.4,2062.4 L943.1,2049.5 L940.5,2031.5 L945.6,2018.6 L958.4,2010.9 L953.3,1998.0 L937.9,1992.9 L917.5,1992.9 L891.9,1990.3 L871.4,1982.6 L856.0,1972.3 L848.4,1954.3 L840.7,1941.4 L822.8,1936.3 L804.9,1949.1 L784.4,1946.6 L763.9,1949.1 L743.4,1933.7 L712.7,1929.6 L702.5,1931.1 L682.0,1936.3 L669.2,1936.3 L661.5,1923.4 L641.1,1923.4 L615.5,1928.6 L589.9,1934.7 L569.4,1938.9 L548.9,1941.4 L523.3,1944.0 L497.7,1946.6 L472.2,1949.1 L456.8,1956.9 L436.3,1964.6 L415.8,1969.7 L395.4,1977.5 L374.9,1985.2 L354.4,1990.3 L334.0,1998.0 L313.5,2003.2 L293.0,2008.3 L272.5,2013.5 L257.2,2021.2 L249.5,2034.1 L241.8,2049.5 L226.5,2054.7 L211.1,2062.4 L200.9,2072.7 L180.4,2072.7 L167.6,2080.4 L157.4,2087.1 L147.1,2083.0 L139.5,2072.7 L134.3,2059.8 L131.8,2046.9 L124.1,2041.8 L120.0,2031.5Z"/></defs><clipPath id="clipe"><use href="#oe"/></clipPath>
<filter id="fep" filterUnits="userSpaceOnUse" x="110" y="1530" width="1680" height="635" color-interpolation-filters="sRGB">
<feGaussianBlur in="SourceGraphic" stdDeviation="5.5"/>
<feColorMatrix type="matrix" values="0 0 0 0 0 0 0 0 0 0 0 0 0 0 0 1 0 0 0 0" result="d"/>
<feTurbulence type="fractalNoise" baseFrequency="0.045" numOctaves="5" seed="41" result="t"/>
<feColorMatrix in="t" type="matrix" values="0 0 0 0 0 0 0 0 0 0 0 0 0 0 0 2.0 0 0 0 -0.5" result="n"/>
<feComposite in="d" in2="n" operator="arithmetic" k1="0" k2="16.100" k3="-14.000" k4="-0.3" result="m"/>
<feFlood x="112" y="1532" width="1" height="1" flood-color="#000" result="px"/>
<feComposite in="px" in2="px" operator="over" x="110" y="1530" width="5" height="5" result="cell"/>
<feTile in="cell" result="grid"/>
<feComposite in="m" in2="grid" operator="in" result="ms"/>
<feMorphology in="ms" operator="dilate" radius="2" result="mp"/>
<feFlood flood-color="#73b2ff" result="c"/>
<feComposite in="c" in2="mp" operator="in"/>
</filter>
<filter id="fec" filterUnits="userSpaceOnUse" x="110" y="1530" width="1680" height="635" color-interpolation-filters="sRGB">
<feGaussianBlur in="SourceGraphic" stdDeviation="8"/>
<feColorMatrix type="matrix" values="0 0 0 0 0 0 0 0 0 0 0 0 0 0 0 1 0 0 0 0" result="d"/>
<feTurbulence type="fractalNoise" baseFrequency="0.17" numOctaves="2" seed="46" result="t"/>
<feColorMatrix in="t" type="matrix" values="0 0 0 0 0 0 0 0 0 0 0 0 0 0 0 2.0 0 0 0 -0.5" result="n"/>
<feComposite in="d" in2="n" operator="arithmetic" k1="0" k2="3.500" k3="-14.000" k4="-0.3" result="m"/>
<feFlood x="112" y="1532" width="1" height="1" flood-color="#000" result="px"/>
<feComposite in="px" in2="px" operator="over" x="110" y="1530" width="5" height="5" result="cell"/>
<feTile in="cell" result="grid"/>
<feComposite in="m" in2="grid" operator="in" result="ms"/>
<feMorphology in="ms" operator="dilate" radius="2" result="mp"/>
<feFlood flood-color="#ffebbe" result="c"/>
<feComposite in="c" in2="mp" operator="in"/>
</filter>
<filter id="fer" filterUnits="userSpaceOnUse" x="110" y="1530" width="1680" height="635" color-interpolation-filters="sRGB">
<feGaussianBlur in="SourceGraphic" stdDeviation="4.5"/>
<feColorMatrix type="matrix" values="0 0 0 0 0 0 0 0 0 0 0 0 0 0 0 1 0 0 0 0" result="d"/>
<feTurbulence type="fractalNoise" baseFrequency="0.075" numOctaves="5" seed="50" result="t"/>
<feColorMatrix in="t" type="matrix" values="0 0 0 0 0 0 0 0 0 0 0 0 0 0 0 2.0 0 0 0 -0.5" result="n"/>
<feComposite in="d" in2="n" operator="arithmetic" k1="0" k2="16.100" k3="-14.000" k4="-0.3" result="m"/>
<feFlood x="112" y="1532" width="1" height="1" flood-color="#000" result="px"/>
<feComposite in="px" in2="px" operator="over" x="110" y="1530" width="5" height="5" result="cell"/>
<feTile in="cell" result="grid"/>
<feComposite in="m" in2="grid" operator="in" result="ms"/>
<feMorphology in="ms" operator="dilate" radius="2" result="mp"/>
<feFlood flood-color="#ff0000" result="c"/>
<feComposite in="c" in2="mp" operator="in"/>
</filter>
<clipPath id="cce0"><rect x="480" y="1935" width="72" height="25"/></clipPath>
<g clip-path="url(#clipe)">
<use href="#oe" fill="#ffa77f"/>
<g filter="url(#fep)"><rect x="110" y="1530" width="1680" height="635" fill="#000"/>
<path d="M1230.0,1660.0 L1370.0,1650.0 L1510.0,1670.0 L1520.0,1740.0 L1500.0,1800.0 L1490.0,1850.0 L1420.0,1870.0 L1380.0,1910.0 L1330.0,1970.0 L1215.0,1970.0 L1190.0,1920.0 L1230.0,1870.0 L1270.0,1800.0 L1270.0,1730.0Z" fill="#6c6c6c"/>
<path d="M920.0,1930.0 L1140.0,1935.0 L1240.0,1950.0 L1290.0,2020.0 L1240.0,2070.0 L1090.0,2150.0 L1030.0,2150.0 L940.0,2050.0Z" fill="#565656"/>
<path d="M1370.0,1610.0 L1440.0,1570.0 L1590.0,1565.0 L1660.0,1645.0 L1665.0,1710.0 L1590.0,1730.0 L1520.0,1670.0 L1390.0,1660.0Z" fill="#404040"/>
<path d="M840.0,1840.0 L1040.0,1840.0 L1140.0,1900.0 L1140.0,1950.0 L920.0,1935.0 L850.0,1900.0Z" fill="#474747"/>
<path d="M215.0,1850.0 L340.0,1840.0 L380.0,1920.0 L360.0,1970.0 L265.0,2000.0 L235.0,1950.0Z" fill="#626262"/>
<path d="M1230.0,1870.0 L1305.0,1870.0 L1330.0,1910.0 L1310.0,1945.0 L1265.0,1970.0 L1215.0,1960.0 L1200.0,1920.0Z" fill="#868686"/>
<path d="M1200.0,1615.0 L1215.0,1590.0 L1265.0,1576.0 L1310.0,1579.0 L1352.5,1595.0 L1342.5,1630.0 L1337.5,1656.0 L1305.0,1662.5 L1280.0,1651.0 L1255.0,1636.0 L1215.0,1636.0Z" fill="#ffffff"/>
<path d="M1120.0,2035.0 L1180.0,2035.0 L1215.0,2040.0 L1240.0,2050.0 L1265.0,2030.0 L1290.0,2020.0 L1300.0,2040.0 L1270.0,2065.0 L1215.0,2070.0 L1205.0,2080.0 L1140.0,2080.0 L1115.0,2060.0Z" fill="#e2e2e2"/>
<path d="M1240.0,1680.0 L1280.0,1660.0 L1330.0,1665.0 L1360.0,1680.0 L1360.0,1710.0 L1330.0,1720.0 L1290.0,1715.0 L1250.0,1700.0Z" fill="#cccccc"/>
<path d="M340.0,1890.0 L336.9,1904.3 L327.7,1913.0 L312.6,1918.2 L287.5,1920.0 L262.4,1918.2 L247.3,1913.0 L238.1,1904.3 L235.0,1890.0 L238.1,1875.7 L247.3,1867.0 L262.4,1861.8 L287.5,1860.0 L312.6,1861.8 L327.7,1867.0 L336.9,1875.7Z" fill="#6c6c6c"/>
<path d="M990.0,2070.0 L1040.0,2065.0 L1065.0,2085.0 L1115.0,2095.0 L1165.0,2100.0 L1160.0,2110.0 L1110.0,2120.0 L1080.0,2120.0 L1040.0,2110.0 L1000.0,2095.0Z" fill="#d9d9d9"/>
<path d="M665.0,1915.0 L705.0,1900.0 L730.0,1890.0 L770.0,1892.5 L815.0,1900.0 L830.0,1920.0 L815.0,1940.0 L780.0,1945.0 L760.0,1925.0 L725.0,1915.0 L670.0,1925.0Z" fill="#d9d9d9"/>
<path d="M220.0,2020.0 L250.0,1995.0 L270.0,1980.0 L310.0,1970.0 L350.0,1975.0 L340.0,1990.0 L300.0,2005.0 L265.0,2020.0 L245.0,2045.0 L215.0,2055.0 L215.0,2035.0Z" fill="#d9d9d9"/>
<path d="M340.0,1945.0 L337.4,1957.0 L329.4,1964.2 L316.5,1968.5 L295.0,1970.0 L273.5,1968.5 L260.6,1964.2 L252.7,1957.0 L250.0,1945.0 L252.7,1933.0 L260.6,1925.8 L273.5,1921.5 L295.0,1920.0 L316.5,1921.5 L329.4,1925.8 L337.4,1933.0Z" fill="#7e7e7e"/>
<path d="M1030.0,1900.0 L1026.8,1909.5 L1017.1,1915.3 L1001.2,1918.8 L975.0,1920.0 L948.8,1918.8 L932.9,1915.3 L923.2,1909.5 L920.0,1900.0 L923.2,1890.5 L932.9,1884.7 L948.8,1881.2 L975.0,1880.0 L1001.2,1881.2 L1017.1,1884.7 L1026.8,1890.5Z" fill="#757575"/>
<path d="M1120.0,1980.0 L1117.3,1989.5 L1109.5,1995.3 L1096.5,1998.8 L1075.0,2000.0 L1053.5,1998.8 L1040.5,1995.3 L1032.7,1989.5 L1030.0,1980.0 L1032.7,1970.5 L1040.5,1964.7 L1053.5,1961.2 L1075.0,1960.0 L1096.5,1961.2 L1109.5,1964.7 L1117.3,1970.5Z" fill="#7e7e7e"/>
<path d="M1500.0,1705.0 L1498.0,1717.0 L1491.8,1724.2 L1481.7,1728.5 L1465.0,1730.0 L1448.3,1728.5 L1438.2,1724.2 L1432.0,1717.0 L1430.0,1705.0 L1432.0,1693.0 L1438.2,1685.8 L1448.3,1681.5 L1465.0,1680.0 L1481.7,1681.5 L1491.8,1685.8 L1498.0,1693.0Z" fill="#7e7e7e"/>
<path d="M1370.0,1820.0 L1367.7,1829.5 L1360.7,1835.3 L1349.1,1838.8 L1330.0,1840.0 L1310.9,1838.8 L1299.3,1835.3 L1292.3,1829.5 L1290.0,1820.0 L1292.3,1810.5 L1299.3,1804.7 L1310.9,1801.2 L1330.0,1800.0 L1349.1,1801.2 L1360.7,1804.7 L1367.7,1810.5Z" fill="#868686"/>
<path d="M1330.0,1860.0 L1360.0,1845.0 L1380.0,1870.0 L1365.0,1900.0 L1330.0,1900.0 L1305.0,1880.0Z" fill="#d9d9d9"/>
<path d="M1350.0,1780.0 L1348.0,1789.5 L1341.8,1795.3 L1331.7,1798.8 L1315.0,1800.0 L1298.3,1798.8 L1288.2,1795.3 L1282.0,1789.5 L1280.0,1780.0 L1282.0,1770.5 L1288.2,1764.7 L1298.3,1761.2 L1315.0,1760.0 L1331.7,1761.2 L1341.8,1764.7 L1348.0,1770.5Z" fill="#a6a6a6"/>
<path d="M910.0,1940.0 L950.0,1935.0 L970.0,1970.0 L960.0,2000.0 L930.0,1980.0Z" fill="#969696"/>
<path d="M1090.0,2135.0 L1087.7,2142.2 L1080.7,2146.5 L1069.1,2149.1 L1050.0,2150.0 L1030.9,2149.1 L1019.4,2146.5 L1012.4,2142.2 L1010.0,2135.0 L1012.4,2127.8 L1019.4,2123.5 L1030.9,2120.9 L1050.0,2120.0 L1069.1,2120.9 L1080.7,2123.5 L1087.7,2127.8Z" fill="#868686"/>
<path d="M1360.0,1770.0 L1420.0,1755.0 L1440.0,1770.0 L1400.0,1790.0 L1365.0,1790.0Z" fill="#a6a6a6"/>
<path d="M395.0,1935.0 L450.0,1925.0 L470.0,1935.0 L440.0,1955.0 L400.0,1965.0Z" fill="#a6a6a6"/>
<path d="M1490.0,1835.0 L1488.0,1842.2 L1481.8,1846.5 L1471.7,1849.1 L1455.0,1850.0 L1438.3,1849.1 L1428.2,1846.5 L1422.0,1842.2 L1420.0,1835.0 L1422.0,1827.8 L1428.2,1823.5 L1438.3,1820.9 L1455.0,1820.0 L1471.7,1820.9 L1481.8,1823.5 L1488.0,1827.8Z" fill="#757575"/>
<path d="M145.0,2060.0 L180.0,2045.0 L215.0,2050.0 L210.0,2070.0 L165.0,2075.0Z" fill="#969696"/>
<path d="M1420.0,1640.0 L1418.8,1649.5 L1415.3,1655.3 L1409.5,1658.8 L1400.0,1660.0 L1390.5,1658.8 L1384.7,1655.3 L1381.2,1649.5 L1380.0,1640.0 L1381.2,1630.5 L1384.7,1624.7 L1390.5,1621.2 L1400.0,1620.0 L1409.5,1621.2 L1415.3,1624.7 L1418.8,1630.5Z" fill="#969696"/>
<path d="M990.0,2055.0 L988.5,2062.2 L984.1,2066.5 L977.0,2069.1 L965.0,2070.0 L953.0,2069.1 L945.9,2066.5 L941.5,2062.2 L940.0,2055.0 L941.5,2047.8 L945.9,2043.5 L953.0,2040.9 L965.0,2040.0 L977.0,2040.9 L984.1,2043.5 L988.5,2047.8Z" fill="#868686"/>
<path d="M1640.0,1670.0 L1638.5,1677.2 L1634.2,1681.5 L1627.0,1684.1 L1615.0,1685.0 L1603.0,1684.1 L1595.8,1681.5 L1591.5,1677.2 L1590.0,1670.0 L1591.5,1662.8 L1595.8,1658.5 L1603.0,1655.9 L1615.0,1655.0 L1627.0,1655.9 L1634.2,1658.5 L1638.5,1662.8Z" fill="#626262"/>
<path d="M1240.0,1965.0 L1238.5,1972.2 L1234.2,1976.5 L1227.0,1979.1 L1215.0,1980.0 L1203.0,1979.1 L1195.8,1976.5 L1191.5,1972.2 L1190.0,1965.0 L1191.5,1957.8 L1195.8,1953.5 L1203.0,1950.9 L1215.0,1950.0 L1227.0,1950.9 L1234.2,1953.5 L1238.5,1957.8Z" fill="#a6a6a6"/>
<path d="M990.0,2010.0 L1020.0,2005.0 L1060.0,2025.0 L1050.0,2040.0 L1010.0,2025.0Z" fill="#d9d9d9"/>
<path d="M1570.0,1625.0 L1568.2,1629.8 L1563.0,1632.7 L1554.3,1634.4 L1540.0,1635.0 L1525.7,1634.4 L1517.0,1632.7 L1511.8,1629.8 L1510.0,1625.0 L1511.8,1620.2 L1517.0,1617.3 L1525.7,1615.6 L1540.0,1615.0 L1554.3,1615.6 L1563.0,1617.3 L1568.2,1620.2Z" fill="#969696"/>
<path d="M920.0,1855.0 L918.8,1862.2 L915.3,1866.5 L909.5,1869.1 L900.0,1870.0 L890.5,1869.1 L884.7,1866.5 L881.2,1862.2 L880.0,1855.0 L881.2,1847.8 L884.7,1843.5 L890.5,1840.9 L900.0,1840.0 L909.5,1840.9 L915.3,1843.5 L918.8,1847.8Z" fill="#757575"/>
<path d="M550.0,1930.0 L548.4,1934.8 L543.5,1937.7 L535.6,1939.4 L522.5,1940.0 L509.4,1939.4 L501.4,1937.7 L496.6,1934.8 L495.0,1930.0 L496.6,1925.2 L501.4,1922.3 L509.4,1920.6 L522.5,1920.0 L535.6,1920.6 L543.5,1922.3 L548.4,1925.2Z" fill="#b8b8b8"/>
<path d="M615.0,1695.0 L613.6,1699.8 L609.8,1702.7 L603.2,1704.4 L592.5,1705.0 L581.8,1704.4 L575.2,1702.7 L571.4,1699.8 L570.0,1695.0 L571.4,1690.2 L575.2,1687.3 L581.8,1685.6 L592.5,1685.0 L603.2,1685.6 L609.8,1687.3 L613.6,1690.2Z" fill="#c1c1c1"/>
<path d="M1270.0,2010.0 L1268.8,2014.8 L1265.3,2017.7 L1259.5,2019.4 L1250.0,2020.0 L1240.5,2019.4 L1234.7,2017.7 L1231.2,2014.8 L1230.0,2010.0 L1231.2,2005.2 L1234.7,2002.3 L1240.5,2000.6 L1250.0,2000.0 L1259.5,2000.6 L1265.3,2002.3 L1268.8,2005.2Z" fill="#757575"/>
<path d="M1460.0,1877.5 L1458.5,1881.1 L1454.2,1883.2 L1447.0,1884.5 L1435.0,1885.0 L1423.0,1884.5 L1415.8,1883.2 L1411.5,1881.1 L1410.0,1877.5 L1411.5,1873.9 L1415.8,1871.8 L1423.0,1870.5 L1435.0,1870.0 L1447.0,1870.5 L1454.2,1871.8 L1458.5,1873.9Z" fill="#969696"/>
<path d="M1460.0,1907.5 L1459.1,1911.1 L1456.5,1913.2 L1452.2,1914.5 L1445.0,1915.0 L1437.8,1914.5 L1433.5,1913.2 L1430.9,1911.1 L1430.0,1907.5 L1430.9,1903.9 L1433.5,1901.8 L1437.8,1900.5 L1445.0,1900.0 L1452.2,1900.5 L1456.5,1901.8 L1459.1,1903.9Z" fill="#969696"/>
<path d="M410.0,1725.0 L409.6,1727.4 L408.2,1728.8 L406.1,1729.7 L402.5,1730.0 L398.9,1729.7 L396.8,1728.8 L395.4,1727.4 L395.0,1725.0 L395.4,1722.6 L396.8,1721.2 L398.9,1720.3 L402.5,1720.0 L406.1,1720.3 L408.2,1721.2 L409.6,1722.6Z" fill="#b8b8b8"/>
</g>
<g filter="url(#fec)"><rect x="110" y="1530" width="1680" height="635" fill="#000"/>
<path d="M1230.0,1660.0 L1370.0,1650.0 L1510.0,1670.0 L1520.0,1740.0 L1500.0,1800.0 L1490.0,1850.0 L1420.0,1870.0 L1380.0,1910.0 L1330.0,1970.0 L1215.0,1970.0 L1190.0,1920.0 L1230.0,1870.0 L1270.0,1800.0 L1270.0,1730.0Z" fill="#fff"/>
<path d="M920.0,1930.0 L1140.0,1935.0 L1240.0,1950.0 L1290.0,2020.0 L1240.0,2070.0 L1090.0,2150.0 L1030.0,2150.0 L940.0,2050.0Z" fill="#fff"/>
<path d="M1370.0,1610.0 L1440.0,1570.0 L1590.0,1565.0 L1660.0,1645.0 L1665.0,1710.0 L1590.0,1730.0 L1520.0,1670.0 L1390.0,1660.0Z" fill="#000"/>
<path d="M840.0,1840.0 L1040.0,1840.0 L1140.0,1900.0 L1140.0,1950.0 L920.0,1935.0 L850.0,1900.0Z" fill="#000"/>
<path d="M215.0,1850.0 L340.0,1840.0 L380.0,1920.0 L360.0,1970.0 L265.0,2000.0 L235.0,1950.0Z" fill="#fff"/>
<path d="M1230.0,1870.0 L1305.0,1870.0 L1330.0,1910.0 L1310.0,1945.0 L1265.0,1970.0 L1215.0,1960.0 L1200.0,1920.0Z" fill="#fff"/>
<path d="M1200.0,1615.0 L1215.0,1590.0 L1265.0,1576.0 L1310.0,1579.0 L1352.5,1595.0 L1342.5,1630.0 L1337.5,1656.0 L1305.0,1662.5 L1280.0,1651.0 L1255.0,1636.0 L1215.0,1636.0Z" fill="#000"/>
<path d="M1120.0,2035.0 L1180.0,2035.0 L1215.0,2040.0 L1240.0,2050.0 L1265.0,2030.0 L1290.0,2020.0 L1300.0,2040.0 L1270.0,2065.0 L1215.0,2070.0 L1205.0,2080.0 L1140.0,2080.0 L1115.0,2060.0Z" fill="#000"/>
<path d="M1240.0,1680.0 L1280.0,1660.0 L1330.0,1665.0 L1360.0,1680.0 L1360.0,1710.0 L1330.0,1720.0 L1290.0,1715.0 L1250.0,1700.0Z" fill="#000"/>
<path d="M340.0,1890.0 L336.9,1904.3 L327.7,1913.0 L312.6,1918.2 L287.5,1920.0 L262.4,1918.2 L247.3,1913.0 L238.1,1904.3 L235.0,1890.0 L238.1,1875.7 L247.3,1867.0 L262.4,1861.8 L287.5,1860.0 L312.6,1861.8 L327.7,1867.0 L336.9,1875.7Z" fill="#fff"/>
<path d="M990.0,2070.0 L1040.0,2065.0 L1065.0,2085.0 L1115.0,2095.0 L1165.0,2100.0 L1160.0,2110.0 L1110.0,2120.0 L1080.0,2120.0 L1040.0,2110.0 L1000.0,2095.0Z" fill="#000"/>
<path d="M665.0,1915.0 L705.0,1900.0 L730.0,1890.0 L770.0,1892.5 L815.0,1900.0 L830.0,1920.0 L815.0,1940.0 L780.0,1945.0 L760.0,1925.0 L725.0,1915.0 L670.0,1925.0Z" fill="#000"/>
<path d="M220.0,2020.0 L250.0,1995.0 L270.0,1980.0 L310.0,1970.0 L350.0,1975.0 L340.0,1990.0 L300.0,2005.0 L265.0,2020.0 L245.0,2045.0 L215.0,2055.0 L215.0,2035.0Z" fill="#000"/>
<path d="M340.0,1945.0 L337.4,1957.0 L329.4,1964.2 L316.5,1968.5 L295.0,1970.0 L273.5,1968.5 L260.6,1964.2 L252.7,1957.0 L250.0,1945.0 L252.7,1933.0 L260.6,1925.8 L273.5,1921.5 L295.0,1920.0 L316.5,1921.5 L329.4,1925.8 L337.4,1933.0Z" fill="#fff"/>
<path d="M1030.0,1900.0 L1026.8,1909.5 L1017.1,1915.3 L1001.2,1918.8 L975.0,1920.0 L948.8,1918.8 L932.9,1915.3 L923.2,1909.5 L920.0,1900.0 L923.2,1890.5 L932.9,1884.7 L948.8,1881.2 L975.0,1880.0 L1001.2,1881.2 L1017.1,1884.7 L1026.8,1890.5Z" fill="#fff"/>
<path d="M1120.0,1980.0 L1117.3,1989.5 L1109.5,1995.3 L1096.5,1998.8 L1075.0,2000.0 L1053.5,1998.8 L1040.5,1995.3 L1032.7,1989.5 L1030.0,1980.0 L1032.7,1970.5 L1040.5,1964.7 L1053.5,1961.2 L1075.0,1960.0 L1096.5,1961.2 L1109.5,1964.7 L1117.3,1970.5Z" fill="#fff"/>
<path d="M1500.0,1705.0 L1498.0,1717.0 L1491.8,1724.2 L1481.7,1728.5 L1465.0,1730.0 L1448.3,1728.5 L1438.2,1724.2 L1432.0,1717.0 L1430.0,1705.0 L1432.0,1693.0 L1438.2,1685.8 L1448.3,1681.5 L1465.0,1680.0 L1481.7,1681.5 L1491.8,1685.8 L1498.0,1693.0Z" fill="#fff"/>
<path d="M1370.0,1820.0 L1367.7,1829.5 L1360.7,1835.3 L1349.1,1838.8 L1330.0,1840.0 L1310.9,1838.8 L1299.3,1835.3 L1292.3,1829.5 L1290.0,1820.0 L1292.3,1810.5 L1299.3,1804.7 L1310.9,1801.2 L1330.0,1800.0 L1349.1,1801.2 L1360.7,1804.7 L1367.7,1810.5Z" fill="#fff"/>
<path d="M1330.0,1860.0 L1360.0,1845.0 L1380.0,1870.0 L1365.0,1900.0 L1330.0,1900.0 L1305.0,1880.0Z" fill="#000"/>
<path d="M1350.0,1780.0 L1348.0,1789.5 L1341.8,1795.3 L1331.7,1798.8 L1315.0,1800.0 L1298.3,1798.8 L1288.2,1795.3 L1282.0,1789.5 L1280.0,1780.0 L1282.0,1770.5 L1288.2,1764.7 L1298.3,1761.2 L1315.0,1760.0 L1331.7,1761.2 L1341.8,1764.7 L1348.0,1770.5Z" fill="#fff"/>
<path d="M910.0,1940.0 L950.0,1935.0 L970.0,1970.0 L960.0,2000.0 L930.0,1980.0Z" fill="#fff"/>
<path d="M1090.0,2135.0 L1087.7,2142.2 L1080.7,2146.5 L1069.1,2149.1 L1050.0,2150.0 L1030.9,2149.1 L1019.4,2146.5 L1012.4,2142.2 L1010.0,2135.0 L1012.4,2127.8 L1019.4,2123.5 L1030.9,2120.9 L1050.0,2120.0 L1069.1,2120.9 L1080.7,2123.5 L1087.7,2127.8Z" fill="#fff"/>
<path d="M1360.0,1770.0 L1420.0,1755.0 L1440.0,1770.0 L1400.0,1790.0 L1365.0,1790.0Z" fill="#fff"/>
<path d="M395.0,1935.0 L450.0,1925.0 L470.0,1935.0 L440.0,1955.0 L400.0,1965.0Z" fill="#fff"/>
<path d="M1490.0,1835.0 L1488.0,1842.2 L1481.8,1846.5 L1471.7,1849.1 L1455.0,1850.0 L1438.3,1849.1 L1428.2,1846.5 L1422.0,1842.2 L1420.0,1835.0 L1422.0,1827.8 L1428.2,1823.5 L1438.3,1820.9 L1455.0,1820.0 L1471.7,1820.9 L1481.8,1823.5 L1488.0,1827.8Z" fill="#fff"/>
<path d="M145.0,2060.0 L180.0,2045.0 L215.0,2050.0 L210.0,2070.0 L165.0,2075.0Z" fill="#fff"/>
<path d="M1420.0,1640.0 L1418.8,1649.5 L1415.3,1655.3 L1409.5,1658.8 L1400.0,1660.0 L1390.5,1658.8 L1384.7,1655.3 L1381.2,1649.5 L1380.0,1640.0 L1381.2,1630.5 L1384.7,1624.7 L1390.5,1621.2 L1400.0,1620.0 L1409.5,1621.2 L1415.3,1624.7 L1418.8,1630.5Z" fill="#fff"/>
<path d="M990.0,2055.0 L988.5,2062.2 L984.1,2066.5 L977.0,2069.1 L965.0,2070.0 L953.0,2069.1 L945.9,2066.5 L941.5,2062.2 L940.0,2055.0 L941.5,2047.8 L945.9,2043.5 L953.0,2040.9 L965.0,2040.0 L977.0,2040.9 L984.1,2043.5 L988.5,2047.8Z" fill="#fff"/>
<path d="M1640.0,1670.0 L1638.5,1677.2 L1634.2,1681.5 L1627.0,1684.1 L1615.0,1685.0 L1603.0,1684.1 L1595.8,1681.5 L1591.5,1677.2 L1590.0,1670.0 L1591.5,1662.8 L1595.8,1658.5 L1603.0,1655.9 L1615.0,1655.0 L1627.0,1655.9 L1634.2,1658.5 L1638.5,1662.8Z" fill="#fff"/>
<path d="M1240.0,1965.0 L1238.5,1972.2 L1234.2,1976.5 L1227.0,1979.1 L1215.0,1980.0 L1203.0,1979.1 L1195.8,1976.5 L1191.5,1972.2 L1190.0,1965.0 L1191.5,1957.8 L1195.8,1953.5 L1203.0,1950.9 L1215.0,1950.0 L1227.0,1950.9 L1234.2,1953.5 L1238.5,1957.8Z" fill="#fff"/>
<path d="M990.0,2010.0 L1020.0,2005.0 L1060.0,2025.0 L1050.0,2040.0 L1010.0,2025.0Z" fill="#000"/>
<path d="M1570.0,1625.0 L1568.2,1629.8 L1563.0,1632.7 L1554.3,1634.4 L1540.0,1635.0 L1525.7,1634.4 L1517.0,1632.7 L1511.8,1629.8 L1510.0,1625.0 L1511.8,1620.2 L1517.0,1617.3 L1525.7,1615.6 L1540.0,1615.0 L1554.3,1615.6 L1563.0,1617.3 L1568.2,1620.2Z" fill="#fff"/>
<path d="M920.0,1855.0 L918.8,1862.2 L915.3,1866.5 L909.5,1869.1 L900.0,1870.0 L890.5,1869.1 L884.7,1866.5 L881.2,1862.2 L880.0,1855.0 L881.2,1847.8 L884.7,1843.5 L890.5,1840.9 L900.0,1840.0 L909.5,1840.9 L915.3,1843.5 L918.8,1847.8Z" fill="#fff"/>
<path d="M550.0,1930.0 L548.4,1934.8 L543.5,1937.7 L535.6,1939.4 L522.5,1940.0 L509.4,1939.4 L501.4,1937.7 L496.6,1934.8 L495.0,1930.0 L496.6,1925.2 L501.4,1922.3 L509.4,1920.6 L522.5,1920.0 L535.6,1920.6 L543.5,1922.3 L548.4,1925.2Z" fill="#fff"/>
<path d="M615.0,1695.0 L613.6,1699.8 L609.8,1702.7 L603.2,1704.4 L592.5,1705.0 L581.8,1704.4 L575.2,1702.7 L571.4,1699.8 L570.0,1695.0 L571.4,1690.2 L575.2,1687.3 L581.8,1685.6 L592.5,1685.0 L603.2,1685.6 L609.8,1687.3 L613.6,1690.2Z" fill="#000"/>
<path d="M1270.0,2010.0 L1268.8,2014.8 L1265.3,2017.7 L1259.5,2019.4 L1250.0,2020.0 L1240.5,2019.4 L1234.7,2017.7 L1231.2,2014.8 L1230.0,2010.0 L1231.2,2005.2 L1234.7,2002.3 L1240.5,2000.6 L1250.0,2000.0 L1259.5,2000.6 L1265.3,2002.3 L1268.8,2005.2Z" fill="#fff"/>
<path d="M1460.0,1877.5 L1458.5,1881.1 L1454.2,1883.2 L1447.0,1884.5 L1435.0,1885.0 L1423.0,1884.5 L1415.8,1883.2 L1411.5,1881.1 L1410.0,1877.5 L1411.5,1873.9 L1415.8,1871.8 L1423.0,1870.5 L1435.0,1870.0 L1447.0,1870.5 L1454.2,1871.8 L1458.5,1873.9Z" fill="#fff"/>
<path d="M1460.0,1907.5 L1459.1,1911.1 L1456.5,1913.2 L1452.2,1914.5 L1445.0,1915.0 L1437.8,1914.5 L1433.5,1913.2 L1430.9,1911.1 L1430.0,1907.5 L1430.9,1903.9 L1433.5,1901.8 L1437.8,1900.5 L1445.0,1900.0 L1452.2,1900.5 L1456.5,1901.8 L1459.1,1903.9Z" fill="#fff"/>
<path d="M410.0,1725.0 L409.6,1727.4 L408.2,1728.8 L406.1,1729.7 L402.5,1730.0 L398.9,1729.7 L396.8,1728.8 L395.4,1727.4 L395.0,1725.0 L395.4,1722.6 L396.8,1721.2 L398.9,1720.3 L402.5,1720.0 L406.1,1720.3 L408.2,1721.2 L409.6,1722.6Z" fill="#fff"/>
</g>
<g filter="url(#fer)"><rect x="110" y="1530" width="1680" height="635" fill="#000"/>
<path d="M450.0,1685.0 L800.0,1670.0 L1250.0,1720.0 L1250.0,1910.0 L800.0,1870.0 L550.0,1920.0 L450.0,1820.0Z" fill="#313131"/>
<path d="M620.0,1710.0 L675.0,1690.0 L750.0,1685.0 L800.0,1670.0 L850.0,1680.0 L900.0,1690.0 L975.0,1695.0 L1040.0,1710.0 L1050.0,1740.0 L1025.0,1770.0 L1000.0,1800.0 L950.0,1805.0 L900.0,1800.0 L850.0,1785.0 L800.0,1780.0 L750.0,1770.0 L700.0,1775.0 L650.0,1760.0 L625.0,1740.0Z" fill="#757575"/>
<path d="M1530.0,1810.0 L1770.0,1830.0 L1775.0,1920.0 L1690.0,1960.0 L1540.0,1930.0Z" fill="#444444"/>
<path d="M1510.0,1745.0 L1560.0,1735.0 L1695.0,1745.0 L1730.0,1790.0 L1750.0,1830.0 L1715.0,1840.0 L1640.0,1830.0 L1565.0,1800.0 L1520.0,1770.0Z" fill="#676767"/>
<path d="M420.0,1620.0 L480.0,1615.0 L500.0,1600.0 L535.0,1595.0 L600.0,1605.0 L650.0,1595.0 L690.0,1605.0 L660.0,1620.0 L650.0,1650.0 L600.0,1670.0 L550.0,1665.0 L515.0,1660.0 L480.0,1670.0 L460.0,1680.0 L445.0,1670.0 L440.0,1640.0Z" fill="#898989"/>
<path d="M1560.0,1740.0 L1615.0,1730.0 L1665.0,1735.0 L1695.0,1755.0 L1715.0,1780.0 L1720.0,1810.0 L1690.0,1820.0 L1640.0,1815.0 L1605.0,1800.0 L1580.0,1775.0 L1560.0,1760.0Z" fill="#e9e9e9"/>
<path d="M1075.0,1710.0 L1100.0,1690.0 L1130.0,1685.0 L1150.0,1710.0 L1200.0,1720.0 L1250.0,1730.0 L1275.0,1740.0 L1275.0,1765.0 L1225.0,1765.0 L1175.0,1760.0 L1125.0,1755.0 L1080.0,1740.0Z" fill="#7c7c7c"/>
<path d="M1590.0,1865.0 L1620.0,1855.0 L1665.0,1855.0 L1715.0,1870.0 L1765.0,1885.0 L1770.0,1900.0 L1715.0,1905.0 L1665.0,1915.0 L1620.0,1920.0 L1600.0,1895.0Z" fill="#898989"/>
<path d="M655.0,1642.5 L651.9,1653.2 L642.7,1659.8 L627.6,1663.7 L602.5,1665.0 L577.4,1663.7 L562.3,1659.8 L553.1,1653.2 L550.0,1642.5 L553.1,1631.8 L562.3,1625.2 L577.4,1621.3 L602.5,1620.0 L627.6,1621.3 L642.7,1625.2 L651.9,1631.8Z" fill="#9f9f9f"/>
<path d="M1000.0,1830.0 L1040.0,1820.0 L1050.0,1850.0 L1070.0,1870.0 L1065.0,1890.0 L1025.0,1885.0 L1000.0,1860.0Z" fill="#909090"/>
<path d="M460.0,1800.0 L500.0,1800.0 L540.0,1815.0 L550.0,1840.0 L515.0,1860.0 L490.0,1840.0 L470.0,1820.0Z" fill="#757575"/>
<path d="M800.0,1857.5 L797.0,1865.8 L788.3,1870.9 L773.9,1874.0 L750.0,1875.0 L726.1,1874.0 L711.7,1870.9 L703.0,1865.8 L700.0,1857.5 L703.0,1849.2 L711.7,1844.1 L726.1,1841.0 L750.0,1840.0 L773.9,1841.0 L788.3,1844.1 L797.0,1849.2Z" fill="#676767"/>
<path d="M570.0,1885.0 L568.8,1901.7 L565.3,1911.8 L559.5,1918.0 L550.0,1920.0 L540.5,1918.0 L534.7,1911.8 L531.2,1901.7 L530.0,1885.0 L531.2,1868.3 L534.7,1858.2 L540.5,1852.0 L550.0,1850.0 L559.5,1852.0 L565.3,1858.2 L568.8,1868.3Z" fill="#6e6e6e"/>
<path d="M410.0,1850.0 L407.9,1859.5 L401.8,1865.3 L391.7,1868.8 L375.0,1870.0 L358.3,1868.8 L348.2,1865.3 L342.1,1859.5 L340.0,1850.0 L342.1,1840.5 L348.2,1834.7 L358.3,1831.2 L375.0,1830.0 L391.7,1831.2 L401.8,1834.7 L407.9,1840.5Z" fill="#444444"/>
<path d="M730.0,1735.0 L728.4,1747.0 L723.5,1754.2 L715.6,1758.5 L702.5,1760.0 L689.4,1758.5 L681.5,1754.2 L676.6,1747.0 L675.0,1735.0 L676.6,1723.0 L681.5,1715.8 L689.4,1711.5 L702.5,1710.0 L715.6,1711.5 L723.5,1715.8 L728.4,1723.0Z" fill="#9f9f9f"/>
<path d="M430.0,1622.5 L480.0,1620.0 L480.0,1670.0 L460.0,1680.0 L445.0,1670.0Z" fill="#b3b3b3"/>
<path d="M1670.0,1872.5 L1668.1,1880.8 L1662.4,1885.9 L1653.0,1889.0 L1637.5,1890.0 L1622.0,1889.0 L1612.6,1885.9 L1606.9,1880.8 L1605.0,1872.5 L1606.9,1864.2 L1612.6,1859.1 L1622.0,1856.0 L1637.5,1855.0 L1653.0,1856.0 L1662.4,1859.1 L1668.1,1864.2Z" fill="#b3b3b3"/>
<path d="M545.0,1745.0 L543.8,1757.0 L540.3,1764.2 L534.5,1768.5 L525.0,1770.0 L515.5,1768.5 L509.7,1764.2 L506.2,1757.0 L505.0,1745.0 L506.2,1733.0 L509.7,1725.8 L515.5,1721.5 L525.0,1720.0 L534.5,1721.5 L540.3,1725.8 L543.8,1733.0Z" fill="#898989"/>
<path d="M1130.0,1712.5 L1128.5,1720.8 L1124.2,1725.9 L1117.0,1729.0 L1105.0,1730.0 L1093.0,1729.0 L1085.8,1725.9 L1081.5,1720.8 L1080.0,1712.5 L1081.5,1704.2 L1085.8,1699.1 L1093.0,1696.0 L1105.0,1695.0 L1117.0,1696.0 L1124.2,1699.1 L1128.5,1704.2Z" fill="#a8a8a8"/>
<path d="M1440.0,1605.0 L1480.0,1595.0 L1500.0,1605.0 L1490.0,1627.5 L1450.0,1627.5Z" fill="#a8a8a8"/>
<path d="M810.0,1765.0 L808.6,1772.2 L804.8,1776.5 L798.2,1779.1 L787.5,1780.0 L776.8,1779.1 L770.2,1776.5 L766.4,1772.2 L765.0,1765.0 L766.4,1757.8 L770.2,1753.5 L776.8,1750.9 L787.5,1750.0 L798.2,1750.9 L804.8,1753.5 L808.6,1757.8Z" fill="#898989"/>
<path d="M1015.0,1785.0 L1013.6,1792.2 L1009.8,1796.5 L1003.2,1799.1 L992.5,1800.0 L981.8,1799.1 L975.2,1796.5 L971.4,1792.2 L970.0,1785.0 L971.4,1777.8 L975.2,1773.5 L981.8,1770.9 L992.5,1770.0 L1003.2,1770.9 L1009.8,1773.5 L1013.6,1777.8Z" fill="#979797"/>
<path d="M1345.0,2002.5 L1343.5,2008.5 L1339.2,2012.0 L1332.0,2014.2 L1320.0,2015.0 L1308.0,2014.2 L1300.8,2012.0 L1296.5,2008.5 L1295.0,2002.5 L1296.5,1996.5 L1300.8,1993.0 L1308.0,1990.8 L1320.0,1990.0 L1332.0,1990.8 L1339.2,1993.0 L1343.5,1996.5Z" fill="#898989"/>
<path d="M1520.0,1560.0 L1518.8,1567.2 L1515.3,1571.5 L1509.5,1574.1 L1500.0,1575.0 L1490.5,1574.1 L1484.7,1571.5 L1481.2,1567.2 L1480.0,1560.0 L1481.2,1552.8 L1484.7,1548.5 L1490.5,1545.9 L1500.0,1545.0 L1509.5,1545.9 L1515.3,1548.5 L1518.8,1552.8Z" fill="#6e6e6e"/>
<path d="M960.0,1767.5 L958.8,1773.5 L955.3,1777.0 L949.5,1779.2 L940.0,1780.0 L930.5,1779.2 L924.7,1777.0 L921.2,1773.5 L920.0,1767.5 L921.2,1761.5 L924.7,1758.0 L930.5,1755.8 L940.0,1755.0 L949.5,1755.8 L955.3,1758.0 L958.8,1761.5Z" fill="#898989"/>
<path d="M1640.0,1905.0 L1639.1,1912.2 L1636.5,1916.5 L1632.2,1919.1 L1625.0,1920.0 L1617.8,1919.1 L1613.5,1916.5 L1610.9,1912.2 L1610.0,1905.0 L1610.9,1897.8 L1613.5,1893.5 L1617.8,1890.9 L1625.0,1890.0 L1632.2,1890.9 L1636.5,1893.5 L1639.1,1897.8Z" fill="#a8a8a8"/>
<path d="M755.0,1700.0 L754.1,1704.8 L751.5,1707.7 L747.1,1709.4 L740.0,1710.0 L732.9,1709.4 L728.5,1707.7 L725.9,1704.8 L725.0,1700.0 L725.9,1695.2 L728.5,1692.3 L732.9,1690.6 L740.0,1690.0 L747.1,1690.6 L751.5,1692.3 L754.1,1695.2Z" fill="#a8a8a8"/>
<path d="M1270.0,1972.5 L1269.1,1976.1 L1266.5,1978.2 L1262.2,1979.5 L1255.0,1980.0 L1247.8,1979.5 L1243.5,1978.2 L1240.9,1976.1 L1240.0,1972.5 L1240.9,1968.9 L1243.5,1966.8 L1247.8,1965.5 L1255.0,1965.0 L1262.2,1965.5 L1266.5,1966.8 L1269.1,1968.9Z" fill="#606060"/>
<path d="M1740.0,1580.0 L1739.4,1584.8 L1737.7,1587.7 L1734.8,1589.4 L1730.0,1590.0 L1725.2,1589.4 L1722.3,1587.7 L1720.6,1584.8 L1720.0,1580.0 L1720.6,1575.2 L1722.3,1572.3 L1725.2,1570.6 L1730.0,1570.0 L1734.8,1570.6 L1737.7,1572.3 L1739.4,1575.2Z" fill="#606060"/>
<path d="M1485.0,1877.5 L1484.2,1881.1 L1482.0,1883.2 L1478.5,1884.5 L1472.5,1885.0 L1466.5,1884.5 L1463.0,1883.2 L1460.8,1881.1 L1460.0,1877.5 L1460.8,1873.9 L1463.0,1871.8 L1466.5,1870.5 L1472.5,1870.0 L1478.5,1870.5 L1482.0,1871.8 L1484.2,1873.9Z" fill="#979797"/>
<path d="M1180.0,1813.8 L1179.4,1816.8 L1177.7,1818.5 L1174.8,1819.7 L1170.0,1820.0 L1165.2,1819.7 L1162.3,1818.5 L1160.6,1816.8 L1160.0,1813.8 L1160.6,1810.8 L1162.3,1809.0 L1165.2,1807.8 L1170.0,1807.5 L1174.8,1807.8 L1177.7,1809.0 L1179.4,1810.8Z" fill="#a8a8a8"/>
</g>
<g clip-path="url(#cce0)"><use href="#oe" fill="none" stroke="#ff0000" stroke-width="7.0" stroke-linejoin="round"/></g>
</g>
<clipPath id="arc"><path d="M2423.6,1636.4 L2479.8,1825.2 L2423.4,1754.4 Z"/></clipPath>
<path d="M2423.6,1636.4 L2366.9,1825.2 L2423.4,1754.4 Z" fill="#000"/>
<path d="M2423.6,1636.4 L2479.8,1825.2 L2423.4,1754.4 Z" fill="#fff" stroke="#000" stroke-width="8.4" stroke-linejoin="miter" clip-path="url(#arc)"/>
<g style="filter:blur(1.5px)" stroke="#484848" stroke-width="5" fill="none">
<path d="M2229,2034 V2059 H2605 V2034 M2417,2034 V2059"/>
</g>
</svg>
<div class="lab" style="left:235px;top:98.4px">(a)</div>
<div class="lab" style="left:1932.3px;top:83.6px">(b)</div>
<div class="lab" style="left:259.3px;top:805.9px">(c)</div>
<div class="lab" style="left:1972.3px;top:853.2px">(d)</div>
<div class="lab" style="left:267.5px;top:1553.3px;font-size:61.1px">(e)</div>
<div class="n" style="left:2394px;top:1548px">N</div>
<div class="ttl" style="left:2848px;top:1522px">LST<span>变化趋势</span></div>
<div class="sw" style="top:1654.0px;background:#0070ff"></div>
<div class="lg" style="left:3014px;top:1669.0px">显著减少</div>
<div class="sw" style="top:1741.6px;background:#73b2ff"></div>
<div class="lg" style="left:3014px;top:1756.6px">不显著减少</div>
<div class="sw" style="top:1831px;left:2859px;width:131.5px;height:66px;border:1.6px solid #3a3a3a;background:#ffebbe"></div>
<div class="lg" style="left:3014px;top:1844.2px">稳定不变</div>
<div class="sw" style="top:1916.8px;background:#ffa77f"></div>
<div class="lg" style="left:3014px;top:1931.8px">不显著增加</div>
<div class="sw" style="top:2005.0px;background:#ff0000"></div>
<div class="lg" style="left:3014px;top:2019.4px">显著增加</div>
<div class="sb" style="left:2217px;top:1977px">0</div>
<div class="sb" style="left:2392px;top:1977px">50</div>
<div class="sb" style="left:2571px;top:1977px">100 km</div>
</body></html>
